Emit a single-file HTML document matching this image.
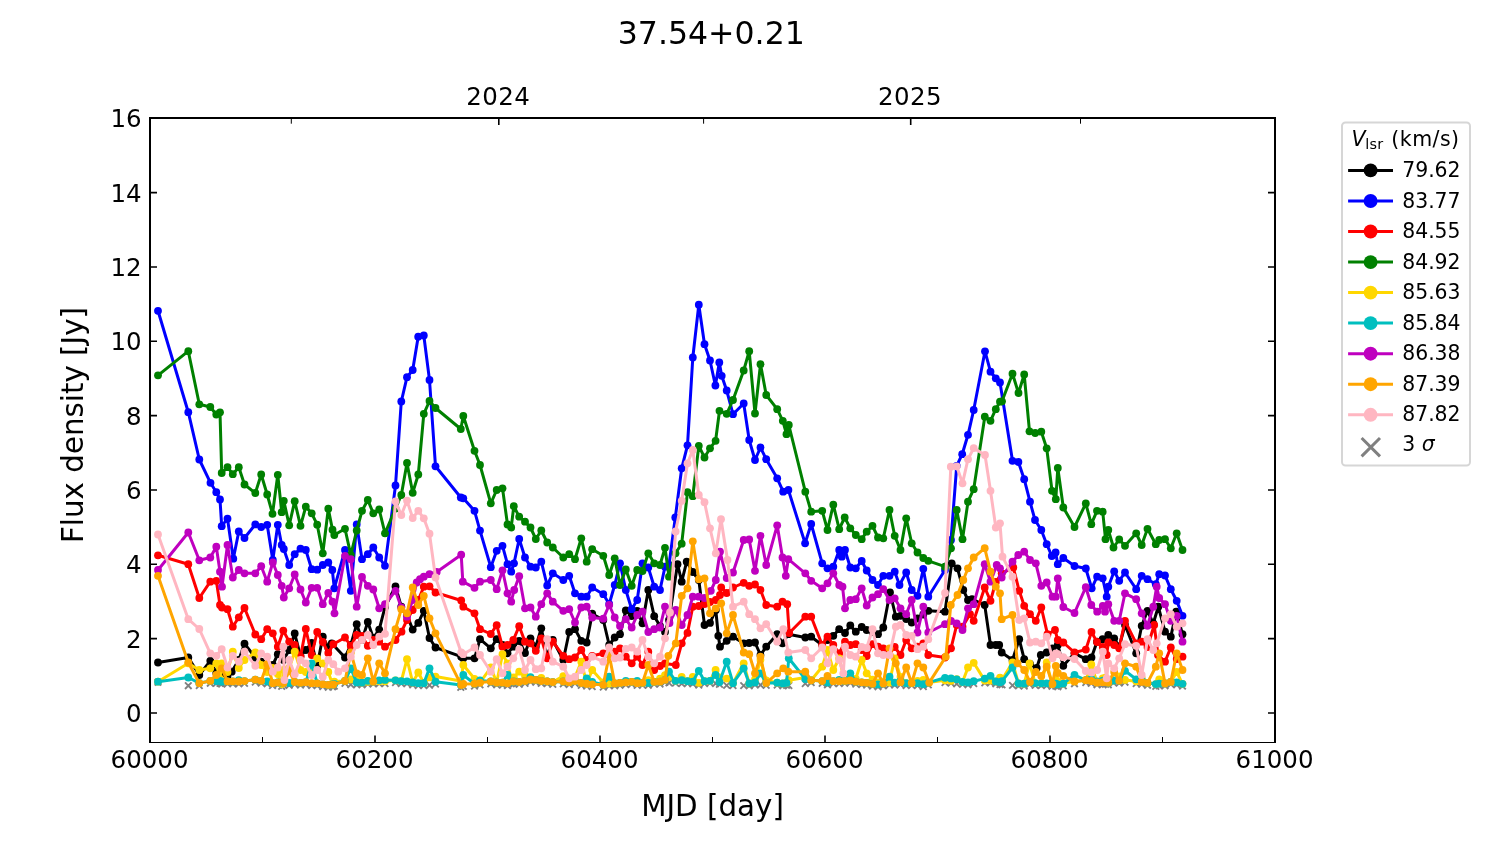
<!DOCTYPE html>
<html lang="en"><head><meta charset="utf-8"><title>37.54+0.21</title>
<style>html,body{margin:0;padding:0;background:#fff}body{width:1500px;height:844px;overflow:hidden}</style></head>
<body>
<svg width="1500" height="844" viewBox="0 0 1500 844" font-family='"DejaVu Sans","Liberation Sans",sans-serif' style="display:block">
<rect x="0" y="0" width="1500" height="844" fill="#fff"/>
<defs><clipPath id="ax"><rect x="150.0" y="118.0" width="1125.0" height="624.5"/></clipPath></defs>
<g clip-path="url(#ax)">
<path d="M154.7 678.9l6.6 6.6M154.7 685.5l6.6 -6.6M185.0 682.4l6.6 6.6M185.0 689.0l6.6 -6.6M196.0 682.2l6.6 6.6M196.0 688.8l6.6 -6.6M207.0 679.9l6.6 6.6M207.0 686.5l6.6 -6.6M213.0 680.0l6.6 6.6M213.0 686.6l6.6 -6.6M216.7 680.0l6.6 6.6M216.7 686.6l6.6 -6.6M218.4 680.7l6.6 6.6M218.4 687.3l6.6 -6.6M224.2 680.4l6.6 6.6M224.2 687.0l6.6 -6.6M229.5 680.4l6.6 6.6M229.5 687.0l6.6 -6.6M235.5 680.5l6.6 6.6M235.5 687.1l6.6 -6.6M241.2 680.1l6.6 6.6M241.2 686.7l6.6 -6.6M252.0 678.7l6.6 6.6M252.0 685.3l6.6 -6.6M257.9 679.8l6.6 6.6M257.9 686.4l6.6 -6.6M263.9 680.4l6.6 6.6M263.9 687.0l6.6 -6.6M269.2 682.2l6.6 6.6M269.2 688.8l6.6 -6.6M274.5 681.4l6.6 6.6M274.5 688.0l6.6 -6.6M278.4 683.0l6.6 6.6M278.4 689.6l6.6 -6.6M280.5 682.1l6.6 6.6M280.5 688.7l6.6 -6.6M285.9 681.9l6.6 6.6M285.9 688.5l6.6 -6.6M291.4 681.0l6.6 6.6M291.4 687.6l6.6 -6.6M297.2 681.8l6.6 6.6M297.2 688.4l6.6 -6.6M302.5 681.2l6.6 6.6M302.5 687.8l6.6 -6.6M308.4 682.2l6.6 6.6M308.4 688.8l6.6 -6.6M313.9 682.3l6.6 6.6M313.9 688.9l6.6 -6.6M319.5 683.2l6.6 6.6M319.5 689.8l6.6 -6.6M325.0 683.9l6.6 6.6M325.0 690.5l6.6 -6.6M329.2 683.5l6.6 6.6M329.2 690.1l6.6 -6.6M331.0 682.8l6.6 6.6M331.0 689.4l6.6 -6.6M341.7 680.0l6.6 6.6M341.7 686.6l6.6 -6.6M347.5 681.3l6.6 6.6M347.5 687.9l6.6 -6.6M353.4 681.4l6.6 6.6M353.4 688.0l6.6 -6.6M358.7 681.6l6.6 6.6M358.7 688.2l6.6 -6.6M364.5 680.8l6.6 6.6M364.5 687.4l6.6 -6.6M370.0 680.5l6.6 6.6M370.0 687.1l6.6 -6.6M375.9 680.3l6.6 6.6M375.9 686.9l6.6 -6.6M381.7 680.3l6.6 6.6M381.7 686.9l6.6 -6.6M392.2 679.3l6.6 6.6M392.2 685.9l6.6 -6.6M398.0 680.2l6.6 6.6M398.0 686.8l6.6 -6.6M403.7 680.3l6.6 6.6M403.7 686.9l6.6 -6.6M409.4 681.5l6.6 6.6M409.4 688.1l6.6 -6.6M415.0 682.2l6.6 6.6M415.0 688.8l6.6 -6.6M420.5 682.2l6.6 6.6M420.5 688.8l6.6 -6.6M426.2 681.9l6.6 6.6M426.2 688.5l6.6 -6.6M432.2 680.7l6.6 6.6M432.2 687.3l6.6 -6.6M457.5 684.1l6.6 6.6M457.5 690.7l6.6 -6.6M460.0 683.0l6.6 6.6M460.0 689.6l6.6 -6.6M471.2 682.7l6.6 6.6M471.2 689.3l6.6 -6.6M476.7 681.6l6.6 6.6M476.7 688.2l6.6 -6.6M487.5 680.5l6.6 6.6M487.5 687.1l6.6 -6.6M493.4 681.5l6.6 6.6M493.4 688.1l6.6 -6.6M499.2 681.7l6.6 6.6M499.2 688.3l6.6 -6.6M504.2 682.3l6.6 6.6M504.2 688.9l6.6 -6.6M507.9 680.6l6.6 6.6M507.9 687.2l6.6 -6.6M510.5 680.5l6.6 6.6M510.5 687.1l6.6 -6.6M515.9 681.0l6.6 6.6M515.9 687.6l6.6 -6.6M521.7 680.0l6.6 6.6M521.7 686.6l6.6 -6.6M527.2 678.5l6.6 6.6M527.2 685.1l6.6 -6.6M532.5 678.9l6.6 6.6M532.5 685.5l6.6 -6.6M538.0 680.0l6.6 6.6M538.0 686.6l6.6 -6.6M543.9 680.3l6.6 6.6M543.9 686.9l6.6 -6.6M549.5 681.1l6.6 6.6M549.5 687.7l6.6 -6.6M560.0 680.5l6.6 6.6M560.0 687.1l6.6 -6.6M565.9 681.2l6.6 6.6M565.9 687.8l6.6 -6.6M571.7 680.1l6.6 6.6M571.7 686.7l6.6 -6.6M578.0 682.0l6.6 6.6M578.0 688.6l6.6 -6.6M583.4 682.7l6.6 6.6M583.4 689.3l6.6 -6.6M588.9 683.3l6.6 6.6M588.9 689.9l6.6 -6.6M600.0 683.8l6.6 6.6M600.0 690.4l6.6 -6.6M605.9 682.6l6.6 6.6M605.9 689.2l6.6 -6.6M611.4 682.4l6.6 6.6M611.4 689.0l6.6 -6.6M616.7 681.9l6.6 6.6M616.7 688.5l6.6 -6.6M622.5 681.3l6.6 6.6M622.5 687.9l6.6 -6.6M628.4 680.8l6.6 6.6M628.4 687.4l6.6 -6.6M633.9 682.1l6.6 6.6M633.9 688.7l6.6 -6.6M639.2 681.8l6.6 6.6M639.2 688.4l6.6 -6.6M645.0 681.9l6.6 6.6M645.0 688.5l6.6 -6.6M650.9 680.8l6.6 6.6M650.9 687.4l6.6 -6.6M656.7 680.7l6.6 6.6M656.7 687.3l6.6 -6.6M661.7 678.9l6.6 6.6M661.7 685.5l6.6 -6.6M665.7 679.6l6.6 6.6M665.7 686.2l6.6 -6.6M672.2 679.8l6.6 6.6M672.2 686.4l6.6 -6.6M678.4 680.3l6.6 6.6M678.4 686.9l6.6 -6.6M684.2 680.2l6.6 6.6M684.2 686.8l6.6 -6.6M689.5 680.6l6.6 6.6M689.5 687.2l6.6 -6.6M695.5 681.8l6.6 6.6M695.5 688.4l6.6 -6.6M701.2 680.2l6.6 6.6M701.2 686.8l6.6 -6.6M706.7 679.8l6.6 6.6M706.7 686.4l6.6 -6.6M712.3 680.2l6.6 6.6M712.3 686.8l6.6 -6.6M716.2 681.0l6.6 6.6M716.2 687.6l6.6 -6.6M723.4 682.1l6.6 6.6M723.4 688.7l6.6 -6.6M729.7 682.2l6.6 6.6M729.7 688.8l6.6 -6.6M740.4 682.3l6.6 6.6M740.4 688.9l6.6 -6.6M745.9 682.5l6.6 6.6M745.9 689.1l6.6 -6.6M751.7 681.4l6.6 6.6M751.7 688.0l6.6 -6.6M757.2 681.7l6.6 6.6M757.2 688.3l6.6 -6.6M762.9 682.1l6.6 6.6M762.9 688.7l6.6 -6.6M773.9 681.7l6.6 6.6M773.9 688.3l6.6 -6.6M779.5 682.4l6.6 6.6M779.5 689.0l6.6 -6.6M783.2 681.9l6.6 6.6M783.2 688.5l6.6 -6.6M785.5 682.2l6.6 6.6M785.5 688.8l6.6 -6.6M802.0 680.2l6.6 6.6M802.0 686.8l6.6 -6.6M807.9 679.3l6.6 6.6M807.9 685.9l6.6 -6.6M818.9 680.1l6.6 6.6M818.9 686.7l6.6 -6.6M824.2 681.5l6.6 6.6M824.2 688.1l6.6 -6.6M830.0 680.2l6.6 6.6M830.0 686.8l6.6 -6.6M835.9 680.2l6.6 6.6M835.9 686.8l6.6 -6.6M841.4 679.9l6.6 6.6M841.4 686.5l6.6 -6.6M847.0 679.5l6.6 6.6M847.0 686.1l6.6 -6.6M852.5 680.7l6.6 6.6M852.5 687.3l6.6 -6.6M858.4 681.3l6.6 6.6M858.4 687.9l6.6 -6.6M863.4 681.8l6.6 6.6M863.4 688.4l6.6 -6.6M869.2 682.8l6.6 6.6M869.2 689.4l6.6 -6.6M874.7 683.4l6.6 6.6M874.7 690.0l6.6 -6.6M880.0 682.6l6.6 6.6M880.0 689.2l6.6 -6.6M886.2 681.5l6.6 6.6M886.2 688.1l6.6 -6.6M891.4 681.7l6.6 6.6M891.4 688.3l6.6 -6.6M897.2 681.2l6.6 6.6M897.2 687.8l6.6 -6.6M902.9 682.2l6.6 6.6M902.9 688.8l6.6 -6.6M908.4 682.0l6.6 6.6M908.4 688.6l6.6 -6.6M914.2 682.2l6.6 6.6M914.2 688.8l6.6 -6.6M920.0 683.2l6.6 6.6M920.0 689.8l6.6 -6.6M925.0 681.6l6.6 6.6M925.0 688.2l6.6 -6.6M941.7 679.3l6.6 6.6M941.7 685.9l6.6 -6.6M947.7 679.8l6.6 6.6M947.7 686.4l6.6 -6.6M953.4 680.6l6.6 6.6M953.4 687.2l6.6 -6.6M959.2 681.0l6.6 6.6M959.2 687.6l6.6 -6.6M964.7 681.4l6.6 6.6M964.7 688.0l6.6 -6.6M970.4 680.2l6.6 6.6M970.4 686.8l6.6 -6.6M981.5 679.6l6.6 6.6M981.5 686.2l6.6 -6.6M987.2 679.5l6.6 6.6M987.2 686.1l6.6 -6.6M992.5 680.4l6.6 6.6M992.5 687.0l6.6 -6.6M996.7 681.2l6.6 6.6M996.7 687.8l6.6 -6.6M998.7 681.6l6.6 6.6M998.7 688.2l6.6 -6.6M1009.2 682.1l6.6 6.6M1009.2 688.7l6.6 -6.6M1015.2 682.5l6.6 6.6M1015.2 689.1l6.6 -6.6M1020.9 682.7l6.6 6.6M1020.9 689.3l6.6 -6.6M1026.2 681.1l6.6 6.6M1026.2 687.7l6.6 -6.6M1031.9 682.1l6.6 6.6M1031.9 688.7l6.6 -6.6M1038.0 682.3l6.6 6.6M1038.0 688.9l6.6 -6.6M1043.4 682.3l6.6 6.6M1043.4 688.9l6.6 -6.6M1048.7 682.9l6.6 6.6M1048.7 689.5l6.6 -6.6M1052.5 682.7l6.6 6.6M1052.5 689.3l6.6 -6.6M1054.5 683.4l6.6 6.6M1054.5 690.0l6.6 -6.6M1060.0 682.6l6.6 6.6M1060.0 689.2l6.6 -6.6M1071.2 680.4l6.6 6.6M1071.2 687.0l6.6 -6.6M1082.5 679.2l6.6 6.6M1082.5 685.8l6.6 -6.6M1088.0 680.0l6.6 6.6M1088.0 686.6l6.6 -6.6M1093.7 681.4l6.6 6.6M1093.7 688.0l6.6 -6.6M1099.4 681.2l6.6 6.6M1099.4 687.8l6.6 -6.6M1102.2 681.1l6.6 6.6M1102.2 687.7l6.6 -6.6M1105.0 681.5l6.6 6.6M1105.0 688.1l6.6 -6.6M1110.2 679.5l6.6 6.6M1110.2 686.1l6.6 -6.6M1115.9 679.8l6.6 6.6M1115.9 686.4l6.6 -6.6M1121.7 678.9l6.6 6.6M1121.7 685.5l6.6 -6.6M1132.9 680.3l6.6 6.6M1132.9 686.9l6.6 -6.6M1138.4 680.9l6.6 6.6M1138.4 687.5l6.6 -6.6M1144.2 681.9l6.6 6.6M1144.2 688.5l6.6 -6.6M1152.5 683.1l6.6 6.6M1152.5 689.7l6.6 -6.6M1155.9 682.6l6.6 6.6M1155.9 689.2l6.6 -6.6M1161.7 682.4l6.6 6.6M1161.7 689.0l6.6 -6.6M1167.5 680.9l6.6 6.6M1167.5 687.5l6.6 -6.6M1173.4 681.4l6.6 6.6M1173.4 688.0l6.6 -6.6M1179.2 682.8l6.6 6.6M1179.2 689.4l6.6 -6.6" stroke="#808080" stroke-width="1.9" fill="none"/>
<g id="s-black" fill="#000000" stroke="none">
<polyline points="158.0,662.5 188.3,657.5 199.3,675.0 210.3,660.8 216.3,673.0 220.0,675.0 227.5,676.0 231.7,671.7 238.8,660.0 244.5,643.7 255.3,657.5 261.2,661.7 267.2,668.0 272.8,665.0 277.8,654.2 283.5,660.0 289.2,650.0 294.7,633.5 300.5,656.0 305.8,650.0 311.7,643.0 317.2,665.8 322.8,636.7 328.3,648.0 331.7,643.3 345.0,657.5 350.8,645.0 356.7,624.2 362.0,640.0 367.8,622.0 373.3,638.0 379.2,629.6 385.0,607.0 395.5,586.5 401.3,606.7 407.0,615.0 412.7,629.6 418.3,622.9 423.8,610.8 429.5,638.0 435.5,647.5 461.2,656.7 463.3,658.3 474.5,658.3 480.0,639.2 490.8,648.3 496.7,639.2 502.5,645.0 507.5,653.3 513.3,646.7 519.2,641.0 525.0,653.0 530.5,638.3 535.8,646.7 541.3,628.3 547.2,656.7 552.8,640.0 563.3,660.0 569.2,632.0 575.0,629.2 581.3,640.8 586.7,642.5 592.2,613.7 603.3,620.0 609.2,645.0 614.7,637.5 620.0,634.2 625.8,610.5 631.7,616.0 637.2,611.0 642.5,623.3 648.3,590.0 654.2,616.2 660.0,626.0 665.0,632.0 669.0,620.0 677.5,564.2 681.7,581.7 686.7,561.7 692.8,572.0 698.8,580.0 704.5,625.0 710.0,622.9 715.8,610.0 718.3,635.8 720.0,646.7 726.7,640.8 733.0,636.7 743.7,643.3 749.2,643.0 755.0,642.5 760.5,655.0 766.2,646.7 777.2,634.2 782.5,643.3 788.3,634.2 805.3,637.5 811.2,636.7 822.2,645.0 827.5,640.0 833.3,635.8 839.2,629.2 845.0,633.0 850.3,625.4 855.8,631.7 861.7,627.0 866.7,630.0 872.5,632.0 878.0,634.2 883.3,627.5 890.0,592.5 895.8,616.7 900.5,615.8 906.2,619.0 911.7,622.5 917.5,618.5 923.3,614.5 928.3,610.8 945.0,611.7 951.7,563.3 957.5,568.3 963.3,590.0 968.0,600.0 972.0,599.2 984.7,605.0 990.5,645.0 995.8,645.0 999.2,645.0 1001.7,652.5 1012.5,660.0 1019.2,639.2 1024.2,659.2 1030.0,664.0 1036.7,668.0 1040.8,655.0 1046.7,652.5 1052.5,648.3 1057.8,645.0 1063.3,665.8 1074.5,653.3 1085.8,659.2 1091.5,657.5 1097.0,641.7 1102.6,639.2 1108.3,635.0 1114.2,638.3 1119.2,646.7 1125.0,625.0 1136.2,653.3 1141.7,625.8 1147.5,610.8 1153.3,623.3 1158.3,606.7 1165.0,631.7 1170.8,636.7 1176.2,611.7 1182.5,634.2" fill="none" stroke="#000000" stroke-width="3.0" stroke-linejoin="round" stroke-linecap="butt"/>
<circle cx="158.0" cy="662.5" r="3.9"/><circle cx="188.3" cy="657.5" r="3.9"/><circle cx="199.3" cy="675.0" r="3.9"/><circle cx="210.3" cy="660.8" r="3.9"/><circle cx="216.3" cy="673.0" r="3.9"/><circle cx="220.0" cy="675.0" r="3.9"/><circle cx="227.5" cy="676.0" r="3.9"/><circle cx="231.7" cy="671.7" r="3.9"/><circle cx="238.8" cy="660.0" r="3.9"/><circle cx="244.5" cy="643.7" r="3.9"/><circle cx="255.3" cy="657.5" r="3.9"/><circle cx="261.2" cy="661.7" r="3.9"/><circle cx="267.2" cy="668.0" r="3.9"/><circle cx="272.8" cy="665.0" r="3.9"/><circle cx="277.8" cy="654.2" r="3.9"/><circle cx="283.5" cy="660.0" r="3.9"/><circle cx="289.2" cy="650.0" r="3.9"/><circle cx="294.7" cy="633.5" r="3.9"/><circle cx="300.5" cy="656.0" r="3.9"/><circle cx="305.8" cy="650.0" r="3.9"/><circle cx="311.7" cy="643.0" r="3.9"/><circle cx="317.2" cy="665.8" r="3.9"/><circle cx="322.8" cy="636.7" r="3.9"/><circle cx="328.3" cy="648.0" r="3.9"/><circle cx="331.7" cy="643.3" r="3.9"/><circle cx="345.0" cy="657.5" r="3.9"/><circle cx="350.8" cy="645.0" r="3.9"/><circle cx="356.7" cy="624.2" r="3.9"/><circle cx="362.0" cy="640.0" r="3.9"/><circle cx="367.8" cy="622.0" r="3.9"/><circle cx="373.3" cy="638.0" r="3.9"/><circle cx="379.2" cy="629.6" r="3.9"/><circle cx="385.0" cy="607.0" r="3.9"/><circle cx="395.5" cy="586.5" r="3.9"/><circle cx="401.3" cy="606.7" r="3.9"/><circle cx="407.0" cy="615.0" r="3.9"/><circle cx="412.7" cy="629.6" r="3.9"/><circle cx="418.3" cy="622.9" r="3.9"/><circle cx="423.8" cy="610.8" r="3.9"/><circle cx="429.5" cy="638.0" r="3.9"/><circle cx="435.5" cy="647.5" r="3.9"/><circle cx="461.2" cy="656.7" r="3.9"/><circle cx="463.3" cy="658.3" r="3.9"/><circle cx="474.5" cy="658.3" r="3.9"/><circle cx="480.0" cy="639.2" r="3.9"/><circle cx="490.8" cy="648.3" r="3.9"/><circle cx="496.7" cy="639.2" r="3.9"/><circle cx="502.5" cy="645.0" r="3.9"/><circle cx="507.5" cy="653.3" r="3.9"/><circle cx="513.3" cy="646.7" r="3.9"/><circle cx="519.2" cy="641.0" r="3.9"/><circle cx="525.0" cy="653.0" r="3.9"/><circle cx="530.5" cy="638.3" r="3.9"/><circle cx="535.8" cy="646.7" r="3.9"/><circle cx="541.3" cy="628.3" r="3.9"/><circle cx="547.2" cy="656.7" r="3.9"/><circle cx="552.8" cy="640.0" r="3.9"/><circle cx="563.3" cy="660.0" r="3.9"/><circle cx="569.2" cy="632.0" r="3.9"/><circle cx="575.0" cy="629.2" r="3.9"/><circle cx="581.3" cy="640.8" r="3.9"/><circle cx="586.7" cy="642.5" r="3.9"/><circle cx="592.2" cy="613.7" r="3.9"/><circle cx="603.3" cy="620.0" r="3.9"/><circle cx="609.2" cy="645.0" r="3.9"/><circle cx="614.7" cy="637.5" r="3.9"/><circle cx="620.0" cy="634.2" r="3.9"/><circle cx="625.8" cy="610.5" r="3.9"/><circle cx="631.7" cy="616.0" r="3.9"/><circle cx="637.2" cy="611.0" r="3.9"/><circle cx="642.5" cy="623.3" r="3.9"/><circle cx="648.3" cy="590.0" r="3.9"/><circle cx="654.2" cy="616.2" r="3.9"/><circle cx="660.0" cy="626.0" r="3.9"/><circle cx="665.0" cy="632.0" r="3.9"/><circle cx="669.0" cy="620.0" r="3.9"/><circle cx="677.5" cy="564.2" r="3.9"/><circle cx="681.7" cy="581.7" r="3.9"/><circle cx="686.7" cy="561.7" r="3.9"/><circle cx="692.8" cy="572.0" r="3.9"/><circle cx="698.8" cy="580.0" r="3.9"/><circle cx="704.5" cy="625.0" r="3.9"/><circle cx="710.0" cy="622.9" r="3.9"/><circle cx="715.8" cy="610.0" r="3.9"/><circle cx="718.3" cy="635.8" r="3.9"/><circle cx="720.0" cy="646.7" r="3.9"/><circle cx="726.7" cy="640.8" r="3.9"/><circle cx="733.0" cy="636.7" r="3.9"/><circle cx="743.7" cy="643.3" r="3.9"/><circle cx="749.2" cy="643.0" r="3.9"/><circle cx="755.0" cy="642.5" r="3.9"/><circle cx="760.5" cy="655.0" r="3.9"/><circle cx="766.2" cy="646.7" r="3.9"/><circle cx="777.2" cy="634.2" r="3.9"/><circle cx="782.5" cy="643.3" r="3.9"/><circle cx="788.3" cy="634.2" r="3.9"/><circle cx="805.3" cy="637.5" r="3.9"/><circle cx="811.2" cy="636.7" r="3.9"/><circle cx="822.2" cy="645.0" r="3.9"/><circle cx="827.5" cy="640.0" r="3.9"/><circle cx="833.3" cy="635.8" r="3.9"/><circle cx="839.2" cy="629.2" r="3.9"/><circle cx="845.0" cy="633.0" r="3.9"/><circle cx="850.3" cy="625.4" r="3.9"/><circle cx="855.8" cy="631.7" r="3.9"/><circle cx="861.7" cy="627.0" r="3.9"/><circle cx="866.7" cy="630.0" r="3.9"/><circle cx="872.5" cy="632.0" r="3.9"/><circle cx="878.0" cy="634.2" r="3.9"/><circle cx="883.3" cy="627.5" r="3.9"/><circle cx="890.0" cy="592.5" r="3.9"/><circle cx="895.8" cy="616.7" r="3.9"/><circle cx="900.5" cy="615.8" r="3.9"/><circle cx="906.2" cy="619.0" r="3.9"/><circle cx="911.7" cy="622.5" r="3.9"/><circle cx="917.5" cy="618.5" r="3.9"/><circle cx="923.3" cy="614.5" r="3.9"/><circle cx="928.3" cy="610.8" r="3.9"/><circle cx="945.0" cy="611.7" r="3.9"/><circle cx="951.7" cy="563.3" r="3.9"/><circle cx="957.5" cy="568.3" r="3.9"/><circle cx="963.3" cy="590.0" r="3.9"/><circle cx="968.0" cy="600.0" r="3.9"/><circle cx="972.0" cy="599.2" r="3.9"/><circle cx="984.7" cy="605.0" r="3.9"/><circle cx="990.5" cy="645.0" r="3.9"/><circle cx="995.8" cy="645.0" r="3.9"/><circle cx="999.2" cy="645.0" r="3.9"/><circle cx="1001.7" cy="652.5" r="3.9"/><circle cx="1012.5" cy="660.0" r="3.9"/><circle cx="1019.2" cy="639.2" r="3.9"/><circle cx="1024.2" cy="659.2" r="3.9"/><circle cx="1030.0" cy="664.0" r="3.9"/><circle cx="1036.7" cy="668.0" r="3.9"/><circle cx="1040.8" cy="655.0" r="3.9"/><circle cx="1046.7" cy="652.5" r="3.9"/><circle cx="1052.5" cy="648.3" r="3.9"/><circle cx="1057.8" cy="645.0" r="3.9"/><circle cx="1063.3" cy="665.8" r="3.9"/><circle cx="1074.5" cy="653.3" r="3.9"/><circle cx="1085.8" cy="659.2" r="3.9"/><circle cx="1091.5" cy="657.5" r="3.9"/><circle cx="1097.0" cy="641.7" r="3.9"/><circle cx="1102.6" cy="639.2" r="3.9"/><circle cx="1108.3" cy="635.0" r="3.9"/><circle cx="1114.2" cy="638.3" r="3.9"/><circle cx="1119.2" cy="646.7" r="3.9"/><circle cx="1125.0" cy="625.0" r="3.9"/><circle cx="1136.2" cy="653.3" r="3.9"/><circle cx="1141.7" cy="625.8" r="3.9"/><circle cx="1147.5" cy="610.8" r="3.9"/><circle cx="1153.3" cy="623.3" r="3.9"/><circle cx="1158.3" cy="606.7" r="3.9"/><circle cx="1165.0" cy="631.7" r="3.9"/><circle cx="1170.8" cy="636.7" r="3.9"/><circle cx="1176.2" cy="611.7" r="3.9"/><circle cx="1182.5" cy="634.2" r="3.9"/>
</g>
<g id="s-blue" fill="#0000ff" stroke="none">
<polyline points="158.0,310.8 188.3,412.2 199.3,459.5 210.5,482.8 216.3,492.2 220.0,499.5 221.7,526.2 227.5,518.7 233.3,558.7 238.8,531.5 244.5,538.0 255.3,524.4 261.2,527.0 267.2,524.8 272.8,560.0 277.8,524.8 281.7,545.0 283.8,549.0 289.2,565.0 294.7,554.2 300.5,548.7 305.8,550.0 311.7,569.2 317.2,569.7 322.8,565.0 328.3,562.5 332.3,570.0 334.3,588.3 345.0,550.0 350.8,590.8 356.7,524.4 362.0,559.2 367.8,554.2 373.3,547.5 379.2,557.5 385.0,565.8 395.5,485.5 401.3,401.5 407.0,377.2 412.7,370.0 418.2,336.7 423.8,335.5 429.5,380.0 435.5,466.3 460.8,497.5 463.3,498.3 474.5,510.8 480.0,530.6 490.8,567.2 496.7,550.8 502.5,545.8 507.5,564.2 511.2,571.7 514.0,563.3 519.2,539.0 525.0,557.5 530.5,566.7 535.8,567.5 541.3,561.7 547.2,585.5 552.8,573.3 563.3,580.0 569.2,575.8 575.0,593.3 581.3,596.7 586.7,596.7 592.2,587.5 603.3,594.2 609.2,604.0 614.7,585.0 620.0,563.3 625.8,590.0 631.7,609.2 637.2,600.0 642.5,563.3 648.3,567.5 654.2,586.7 660.0,590.0 665.0,566.7 669.0,565.0 675.3,517.5 681.7,468.3 687.5,445.3 692.8,357.5 698.8,304.7 704.5,344.2 710.0,360.5 715.4,385.5 719.3,362.5 721.7,375.8 726.7,390.5 733.0,414.2 743.7,403.5 749.2,440.0 755.0,460.0 760.5,447.5 766.2,459.2 777.2,478.3 783.2,491.7 788.4,490.0 805.1,543.3 811.2,524.0 822.2,563.3 827.5,568.3 833.3,566.7 839.2,550.0 841.8,556.7 845.0,550.0 850.3,567.5 855.8,568.3 861.7,561.0 866.7,570.5 872.5,580.0 878.0,585.0 883.3,575.8 889.5,575.8 894.7,571.7 899.5,585.0 906.2,572.5 911.7,590.0 917.5,595.8 923.3,568.8 928.3,596.7 945.0,570.0 951.0,540.0 956.7,465.8 962.2,454.2 968.0,434.8 973.7,410.0 985.0,351.3 990.5,371.7 995.8,378.3 1000.0,382.5 1012.5,460.8 1018.4,462.0 1024.2,479.2 1030.0,501.7 1035.0,520.0 1041.3,530.0 1046.7,544.2 1051.8,556.0 1055.6,552.5 1057.8,564.2 1063.3,558.0 1074.5,566.0 1085.8,568.5 1091.7,588.3 1097.1,576.7 1102.7,578.3 1106.7,596.7 1108.3,586.7 1114.2,571.3 1119.2,580.8 1125.0,572.5 1136.2,589.2 1141.7,575.8 1147.5,579.2 1155.8,584.2 1159.2,574.2 1165.0,575.5 1170.8,589.2 1176.7,600.8 1182.5,615.8" fill="none" stroke="#0000ff" stroke-width="3.0" stroke-linejoin="round" stroke-linecap="butt"/>
<circle cx="158.0" cy="310.8" r="3.9"/><circle cx="188.3" cy="412.2" r="3.9"/><circle cx="199.3" cy="459.5" r="3.9"/><circle cx="210.5" cy="482.8" r="3.9"/><circle cx="216.3" cy="492.2" r="3.9"/><circle cx="220.0" cy="499.5" r="3.9"/><circle cx="221.7" cy="526.2" r="3.9"/><circle cx="227.5" cy="518.7" r="3.9"/><circle cx="233.3" cy="558.7" r="3.9"/><circle cx="238.8" cy="531.5" r="3.9"/><circle cx="244.5" cy="538.0" r="3.9"/><circle cx="255.3" cy="524.4" r="3.9"/><circle cx="261.2" cy="527.0" r="3.9"/><circle cx="267.2" cy="524.8" r="3.9"/><circle cx="272.8" cy="560.0" r="3.9"/><circle cx="277.8" cy="524.8" r="3.9"/><circle cx="281.7" cy="545.0" r="3.9"/><circle cx="283.8" cy="549.0" r="3.9"/><circle cx="289.2" cy="565.0" r="3.9"/><circle cx="294.7" cy="554.2" r="3.9"/><circle cx="300.5" cy="548.7" r="3.9"/><circle cx="305.8" cy="550.0" r="3.9"/><circle cx="311.7" cy="569.2" r="3.9"/><circle cx="317.2" cy="569.7" r="3.9"/><circle cx="322.8" cy="565.0" r="3.9"/><circle cx="328.3" cy="562.5" r="3.9"/><circle cx="332.3" cy="570.0" r="3.9"/><circle cx="334.3" cy="588.3" r="3.9"/><circle cx="345.0" cy="550.0" r="3.9"/><circle cx="350.8" cy="590.8" r="3.9"/><circle cx="356.7" cy="524.4" r="3.9"/><circle cx="362.0" cy="559.2" r="3.9"/><circle cx="367.8" cy="554.2" r="3.9"/><circle cx="373.3" cy="547.5" r="3.9"/><circle cx="379.2" cy="557.5" r="3.9"/><circle cx="385.0" cy="565.8" r="3.9"/><circle cx="395.5" cy="485.5" r="3.9"/><circle cx="401.3" cy="401.5" r="3.9"/><circle cx="407.0" cy="377.2" r="3.9"/><circle cx="412.7" cy="370.0" r="3.9"/><circle cx="418.2" cy="336.7" r="3.9"/><circle cx="423.8" cy="335.5" r="3.9"/><circle cx="429.5" cy="380.0" r="3.9"/><circle cx="435.5" cy="466.3" r="3.9"/><circle cx="460.8" cy="497.5" r="3.9"/><circle cx="463.3" cy="498.3" r="3.9"/><circle cx="474.5" cy="510.8" r="3.9"/><circle cx="480.0" cy="530.6" r="3.9"/><circle cx="490.8" cy="567.2" r="3.9"/><circle cx="496.7" cy="550.8" r="3.9"/><circle cx="502.5" cy="545.8" r="3.9"/><circle cx="507.5" cy="564.2" r="3.9"/><circle cx="511.2" cy="571.7" r="3.9"/><circle cx="514.0" cy="563.3" r="3.9"/><circle cx="519.2" cy="539.0" r="3.9"/><circle cx="525.0" cy="557.5" r="3.9"/><circle cx="530.5" cy="566.7" r="3.9"/><circle cx="535.8" cy="567.5" r="3.9"/><circle cx="541.3" cy="561.7" r="3.9"/><circle cx="547.2" cy="585.5" r="3.9"/><circle cx="552.8" cy="573.3" r="3.9"/><circle cx="563.3" cy="580.0" r="3.9"/><circle cx="569.2" cy="575.8" r="3.9"/><circle cx="575.0" cy="593.3" r="3.9"/><circle cx="581.3" cy="596.7" r="3.9"/><circle cx="586.7" cy="596.7" r="3.9"/><circle cx="592.2" cy="587.5" r="3.9"/><circle cx="603.3" cy="594.2" r="3.9"/><circle cx="609.2" cy="604.0" r="3.9"/><circle cx="614.7" cy="585.0" r="3.9"/><circle cx="620.0" cy="563.3" r="3.9"/><circle cx="625.8" cy="590.0" r="3.9"/><circle cx="631.7" cy="609.2" r="3.9"/><circle cx="637.2" cy="600.0" r="3.9"/><circle cx="642.5" cy="563.3" r="3.9"/><circle cx="648.3" cy="567.5" r="3.9"/><circle cx="654.2" cy="586.7" r="3.9"/><circle cx="660.0" cy="590.0" r="3.9"/><circle cx="665.0" cy="566.7" r="3.9"/><circle cx="669.0" cy="565.0" r="3.9"/><circle cx="675.3" cy="517.5" r="3.9"/><circle cx="681.7" cy="468.3" r="3.9"/><circle cx="687.5" cy="445.3" r="3.9"/><circle cx="692.8" cy="357.5" r="3.9"/><circle cx="698.8" cy="304.7" r="3.9"/><circle cx="704.5" cy="344.2" r="3.9"/><circle cx="710.0" cy="360.5" r="3.9"/><circle cx="715.4" cy="385.5" r="3.9"/><circle cx="719.3" cy="362.5" r="3.9"/><circle cx="721.7" cy="375.8" r="3.9"/><circle cx="726.7" cy="390.5" r="3.9"/><circle cx="733.0" cy="414.2" r="3.9"/><circle cx="743.7" cy="403.5" r="3.9"/><circle cx="749.2" cy="440.0" r="3.9"/><circle cx="755.0" cy="460.0" r="3.9"/><circle cx="760.5" cy="447.5" r="3.9"/><circle cx="766.2" cy="459.2" r="3.9"/><circle cx="777.2" cy="478.3" r="3.9"/><circle cx="783.2" cy="491.7" r="3.9"/><circle cx="788.4" cy="490.0" r="3.9"/><circle cx="805.1" cy="543.3" r="3.9"/><circle cx="811.2" cy="524.0" r="3.9"/><circle cx="822.2" cy="563.3" r="3.9"/><circle cx="827.5" cy="568.3" r="3.9"/><circle cx="833.3" cy="566.7" r="3.9"/><circle cx="839.2" cy="550.0" r="3.9"/><circle cx="841.8" cy="556.7" r="3.9"/><circle cx="845.0" cy="550.0" r="3.9"/><circle cx="850.3" cy="567.5" r="3.9"/><circle cx="855.8" cy="568.3" r="3.9"/><circle cx="861.7" cy="561.0" r="3.9"/><circle cx="866.7" cy="570.5" r="3.9"/><circle cx="872.5" cy="580.0" r="3.9"/><circle cx="878.0" cy="585.0" r="3.9"/><circle cx="883.3" cy="575.8" r="3.9"/><circle cx="889.5" cy="575.8" r="3.9"/><circle cx="894.7" cy="571.7" r="3.9"/><circle cx="899.5" cy="585.0" r="3.9"/><circle cx="906.2" cy="572.5" r="3.9"/><circle cx="911.7" cy="590.0" r="3.9"/><circle cx="917.5" cy="595.8" r="3.9"/><circle cx="923.3" cy="568.8" r="3.9"/><circle cx="928.3" cy="596.7" r="3.9"/><circle cx="945.0" cy="570.0" r="3.9"/><circle cx="951.0" cy="540.0" r="3.9"/><circle cx="956.7" cy="465.8" r="3.9"/><circle cx="962.2" cy="454.2" r="3.9"/><circle cx="968.0" cy="434.8" r="3.9"/><circle cx="973.7" cy="410.0" r="3.9"/><circle cx="985.0" cy="351.3" r="3.9"/><circle cx="990.5" cy="371.7" r="3.9"/><circle cx="995.8" cy="378.3" r="3.9"/><circle cx="1000.0" cy="382.5" r="3.9"/><circle cx="1012.5" cy="460.8" r="3.9"/><circle cx="1018.4" cy="462.0" r="3.9"/><circle cx="1024.2" cy="479.2" r="3.9"/><circle cx="1030.0" cy="501.7" r="3.9"/><circle cx="1035.0" cy="520.0" r="3.9"/><circle cx="1041.3" cy="530.0" r="3.9"/><circle cx="1046.7" cy="544.2" r="3.9"/><circle cx="1051.8" cy="556.0" r="3.9"/><circle cx="1055.6" cy="552.5" r="3.9"/><circle cx="1057.8" cy="564.2" r="3.9"/><circle cx="1063.3" cy="558.0" r="3.9"/><circle cx="1074.5" cy="566.0" r="3.9"/><circle cx="1085.8" cy="568.5" r="3.9"/><circle cx="1091.7" cy="588.3" r="3.9"/><circle cx="1097.1" cy="576.7" r="3.9"/><circle cx="1102.7" cy="578.3" r="3.9"/><circle cx="1106.7" cy="596.7" r="3.9"/><circle cx="1108.3" cy="586.7" r="3.9"/><circle cx="1114.2" cy="571.3" r="3.9"/><circle cx="1119.2" cy="580.8" r="3.9"/><circle cx="1125.0" cy="572.5" r="3.9"/><circle cx="1136.2" cy="589.2" r="3.9"/><circle cx="1141.7" cy="575.8" r="3.9"/><circle cx="1147.5" cy="579.2" r="3.9"/><circle cx="1155.8" cy="584.2" r="3.9"/><circle cx="1159.2" cy="574.2" r="3.9"/><circle cx="1165.0" cy="575.5" r="3.9"/><circle cx="1170.8" cy="589.2" r="3.9"/><circle cx="1176.7" cy="600.8" r="3.9"/><circle cx="1182.5" cy="615.8" r="3.9"/>
</g>
<g id="s-red" fill="#ff0000" stroke="none">
<polyline points="158.0,555.3 188.3,564.2 199.3,598.0 210.3,581.7 216.3,580.8 220.0,605.0 222.0,607.5 227.5,609.2 232.8,626.7 238.8,617.3 244.5,608.0 255.3,634.5 261.2,639.2 267.2,629.2 272.8,633.3 277.8,646.7 283.3,630.6 289.2,641.7 294.7,645.0 300.5,656.7 305.8,629.0 311.7,655.0 317.2,632.0 322.8,642.0 328.3,653.0 333.3,644.2 345.0,637.5 350.8,646.0 356.7,635.0 362.0,636.0 367.8,645.8 373.3,640.0 379.2,641.7 385.0,646.7 395.5,640.0 401.5,631.7 407.0,620.0 412.7,610.0 418.3,600.0 423.8,586.7 429.5,586.3 435.5,592.5 461.2,600.5 463.3,606.7 474.5,613.3 480.0,629.2 490.8,634.0 496.7,625.2 502.5,646.7 507.5,645.0 513.3,640.0 519.2,626.2 525.0,641.7 530.5,643.3 535.8,650.8 541.3,638.3 547.2,658.3 552.8,641.7 563.3,655.8 569.2,659.2 575.0,657.5 581.3,650.0 586.7,660.0 592.2,656.0 603.3,653.3 609.2,653.3 614.7,651.7 620.0,648.3 625.8,656.7 631.7,663.3 637.2,656.7 642.5,665.0 648.3,651.7 654.2,670.0 660.0,666.0 665.0,663.5 675.8,665.0 681.7,643.3 687.5,632.9 692.8,606.7 698.8,606.0 704.5,604.0 710.0,602.0 715.8,600.0 720.0,595.0 721.2,587.5 726.7,593.0 733.0,587.5 743.7,582.8 749.2,585.8 755.0,584.5 760.5,590.0 766.2,605.0 777.2,606.7 782.5,601.7 787.2,604.2 789.2,633.0 805.3,616.7 811.2,616.7 822.2,645.0 827.5,636.7 833.3,645.0 839.2,653.3 845.0,641.7 850.3,645.0 855.8,644.2 861.7,650.0 866.7,656.0 872.5,644.2 878.0,646.7 883.3,648.3 889.5,650.0 894.7,647.0 900.5,655.0 906.2,640.0 911.7,648.3 917.5,646.7 923.3,643.3 928.3,655.0 945.0,657.5 951.0,648.3 956.7,625.0 962.5,626.7 970.0,614.2 973.7,620.8 984.7,587.5 990.5,600.8 995.8,582.0 1001.7,573.3 1013.3,567.5 1019.2,590.8 1024.2,605.8 1030.0,614.2 1035.8,620.8 1041.3,607.5 1047.5,634.2 1055.0,630.0 1057.8,640.0 1063.3,642.5 1074.5,652.5 1085.8,649.6 1091.5,632.0 1097.0,642.0 1102.8,647.0 1106.7,655.0 1108.3,642.5 1114.2,645.0 1119.2,648.3 1125.0,620.8 1136.2,643.3 1141.7,641.7 1147.5,647.0 1154.2,625.0 1158.0,655.0 1165.0,661.7 1170.8,647.5 1176.7,659.0 1182.5,656.7" fill="none" stroke="#ff0000" stroke-width="3.0" stroke-linejoin="round" stroke-linecap="butt"/>
<circle cx="158.0" cy="555.3" r="3.9"/><circle cx="188.3" cy="564.2" r="3.9"/><circle cx="199.3" cy="598.0" r="3.9"/><circle cx="210.3" cy="581.7" r="3.9"/><circle cx="216.3" cy="580.8" r="3.9"/><circle cx="220.0" cy="605.0" r="3.9"/><circle cx="222.0" cy="607.5" r="3.9"/><circle cx="227.5" cy="609.2" r="3.9"/><circle cx="232.8" cy="626.7" r="3.9"/><circle cx="238.8" cy="617.3" r="3.9"/><circle cx="244.5" cy="608.0" r="3.9"/><circle cx="255.3" cy="634.5" r="3.9"/><circle cx="261.2" cy="639.2" r="3.9"/><circle cx="267.2" cy="629.2" r="3.9"/><circle cx="272.8" cy="633.3" r="3.9"/><circle cx="277.8" cy="646.7" r="3.9"/><circle cx="283.3" cy="630.6" r="3.9"/><circle cx="289.2" cy="641.7" r="3.9"/><circle cx="294.7" cy="645.0" r="3.9"/><circle cx="300.5" cy="656.7" r="3.9"/><circle cx="305.8" cy="629.0" r="3.9"/><circle cx="311.7" cy="655.0" r="3.9"/><circle cx="317.2" cy="632.0" r="3.9"/><circle cx="322.8" cy="642.0" r="3.9"/><circle cx="328.3" cy="653.0" r="3.9"/><circle cx="333.3" cy="644.2" r="3.9"/><circle cx="345.0" cy="637.5" r="3.9"/><circle cx="350.8" cy="646.0" r="3.9"/><circle cx="356.7" cy="635.0" r="3.9"/><circle cx="362.0" cy="636.0" r="3.9"/><circle cx="367.8" cy="645.8" r="3.9"/><circle cx="373.3" cy="640.0" r="3.9"/><circle cx="379.2" cy="641.7" r="3.9"/><circle cx="385.0" cy="646.7" r="3.9"/><circle cx="395.5" cy="640.0" r="3.9"/><circle cx="401.5" cy="631.7" r="3.9"/><circle cx="407.0" cy="620.0" r="3.9"/><circle cx="412.7" cy="610.0" r="3.9"/><circle cx="418.3" cy="600.0" r="3.9"/><circle cx="423.8" cy="586.7" r="3.9"/><circle cx="429.5" cy="586.3" r="3.9"/><circle cx="435.5" cy="592.5" r="3.9"/><circle cx="461.2" cy="600.5" r="3.9"/><circle cx="463.3" cy="606.7" r="3.9"/><circle cx="474.5" cy="613.3" r="3.9"/><circle cx="480.0" cy="629.2" r="3.9"/><circle cx="490.8" cy="634.0" r="3.9"/><circle cx="496.7" cy="625.2" r="3.9"/><circle cx="502.5" cy="646.7" r="3.9"/><circle cx="507.5" cy="645.0" r="3.9"/><circle cx="513.3" cy="640.0" r="3.9"/><circle cx="519.2" cy="626.2" r="3.9"/><circle cx="525.0" cy="641.7" r="3.9"/><circle cx="530.5" cy="643.3" r="3.9"/><circle cx="535.8" cy="650.8" r="3.9"/><circle cx="541.3" cy="638.3" r="3.9"/><circle cx="547.2" cy="658.3" r="3.9"/><circle cx="552.8" cy="641.7" r="3.9"/><circle cx="563.3" cy="655.8" r="3.9"/><circle cx="569.2" cy="659.2" r="3.9"/><circle cx="575.0" cy="657.5" r="3.9"/><circle cx="581.3" cy="650.0" r="3.9"/><circle cx="586.7" cy="660.0" r="3.9"/><circle cx="592.2" cy="656.0" r="3.9"/><circle cx="603.3" cy="653.3" r="3.9"/><circle cx="609.2" cy="653.3" r="3.9"/><circle cx="614.7" cy="651.7" r="3.9"/><circle cx="620.0" cy="648.3" r="3.9"/><circle cx="625.8" cy="656.7" r="3.9"/><circle cx="631.7" cy="663.3" r="3.9"/><circle cx="637.2" cy="656.7" r="3.9"/><circle cx="642.5" cy="665.0" r="3.9"/><circle cx="648.3" cy="651.7" r="3.9"/><circle cx="654.2" cy="670.0" r="3.9"/><circle cx="660.0" cy="666.0" r="3.9"/><circle cx="665.0" cy="663.5" r="3.9"/><circle cx="675.8" cy="665.0" r="3.9"/><circle cx="681.7" cy="643.3" r="3.9"/><circle cx="687.5" cy="632.9" r="3.9"/><circle cx="692.8" cy="606.7" r="3.9"/><circle cx="698.8" cy="606.0" r="3.9"/><circle cx="704.5" cy="604.0" r="3.9"/><circle cx="710.0" cy="602.0" r="3.9"/><circle cx="715.8" cy="600.0" r="3.9"/><circle cx="720.0" cy="595.0" r="3.9"/><circle cx="721.2" cy="587.5" r="3.9"/><circle cx="726.7" cy="593.0" r="3.9"/><circle cx="733.0" cy="587.5" r="3.9"/><circle cx="743.7" cy="582.8" r="3.9"/><circle cx="749.2" cy="585.8" r="3.9"/><circle cx="755.0" cy="584.5" r="3.9"/><circle cx="760.5" cy="590.0" r="3.9"/><circle cx="766.2" cy="605.0" r="3.9"/><circle cx="777.2" cy="606.7" r="3.9"/><circle cx="782.5" cy="601.7" r="3.9"/><circle cx="787.2" cy="604.2" r="3.9"/><circle cx="789.2" cy="633.0" r="3.9"/><circle cx="805.3" cy="616.7" r="3.9"/><circle cx="811.2" cy="616.7" r="3.9"/><circle cx="822.2" cy="645.0" r="3.9"/><circle cx="827.5" cy="636.7" r="3.9"/><circle cx="833.3" cy="645.0" r="3.9"/><circle cx="839.2" cy="653.3" r="3.9"/><circle cx="845.0" cy="641.7" r="3.9"/><circle cx="850.3" cy="645.0" r="3.9"/><circle cx="855.8" cy="644.2" r="3.9"/><circle cx="861.7" cy="650.0" r="3.9"/><circle cx="866.7" cy="656.0" r="3.9"/><circle cx="872.5" cy="644.2" r="3.9"/><circle cx="878.0" cy="646.7" r="3.9"/><circle cx="883.3" cy="648.3" r="3.9"/><circle cx="889.5" cy="650.0" r="3.9"/><circle cx="894.7" cy="647.0" r="3.9"/><circle cx="900.5" cy="655.0" r="3.9"/><circle cx="906.2" cy="640.0" r="3.9"/><circle cx="911.7" cy="648.3" r="3.9"/><circle cx="917.5" cy="646.7" r="3.9"/><circle cx="923.3" cy="643.3" r="3.9"/><circle cx="928.3" cy="655.0" r="3.9"/><circle cx="945.0" cy="657.5" r="3.9"/><circle cx="951.0" cy="648.3" r="3.9"/><circle cx="956.7" cy="625.0" r="3.9"/><circle cx="962.5" cy="626.7" r="3.9"/><circle cx="970.0" cy="614.2" r="3.9"/><circle cx="973.7" cy="620.8" r="3.9"/><circle cx="984.7" cy="587.5" r="3.9"/><circle cx="990.5" cy="600.8" r="3.9"/><circle cx="995.8" cy="582.0" r="3.9"/><circle cx="1001.7" cy="573.3" r="3.9"/><circle cx="1013.3" cy="567.5" r="3.9"/><circle cx="1019.2" cy="590.8" r="3.9"/><circle cx="1024.2" cy="605.8" r="3.9"/><circle cx="1030.0" cy="614.2" r="3.9"/><circle cx="1035.8" cy="620.8" r="3.9"/><circle cx="1041.3" cy="607.5" r="3.9"/><circle cx="1047.5" cy="634.2" r="3.9"/><circle cx="1055.0" cy="630.0" r="3.9"/><circle cx="1057.8" cy="640.0" r="3.9"/><circle cx="1063.3" cy="642.5" r="3.9"/><circle cx="1074.5" cy="652.5" r="3.9"/><circle cx="1085.8" cy="649.6" r="3.9"/><circle cx="1091.5" cy="632.0" r="3.9"/><circle cx="1097.0" cy="642.0" r="3.9"/><circle cx="1102.8" cy="647.0" r="3.9"/><circle cx="1106.7" cy="655.0" r="3.9"/><circle cx="1108.3" cy="642.5" r="3.9"/><circle cx="1114.2" cy="645.0" r="3.9"/><circle cx="1119.2" cy="648.3" r="3.9"/><circle cx="1125.0" cy="620.8" r="3.9"/><circle cx="1136.2" cy="643.3" r="3.9"/><circle cx="1141.7" cy="641.7" r="3.9"/><circle cx="1147.5" cy="647.0" r="3.9"/><circle cx="1154.2" cy="625.0" r="3.9"/><circle cx="1158.0" cy="655.0" r="3.9"/><circle cx="1165.0" cy="661.7" r="3.9"/><circle cx="1170.8" cy="647.5" r="3.9"/><circle cx="1176.7" cy="659.0" r="3.9"/><circle cx="1182.5" cy="656.7" r="3.9"/>
</g>
<g id="s-green" fill="#008000" stroke="none">
<polyline points="158.0,375.3 188.3,351.2 199.3,404.3 210.3,407.0 216.3,414.5 220.0,412.3 221.7,473.0 227.5,467.2 232.8,474.2 238.8,467.2 244.5,484.5 255.3,493.0 261.2,474.5 267.2,494.5 272.5,513.8 277.8,474.8 281.7,512.2 283.8,500.8 289.2,525.3 294.7,501.2 300.5,525.8 305.8,506.7 311.7,513.3 317.2,524.7 322.8,553.3 328.3,508.7 332.5,529.7 334.3,535.0 345.0,528.8 350.8,555.0 356.7,530.5 362.0,510.8 367.8,500.0 373.3,513.3 379.2,509.5 385.0,533.3 395.5,508.6 401.3,495.0 407.0,463.0 412.7,492.8 418.3,474.5 423.8,413.8 429.5,401.0 435.5,408.0 460.8,429.0 463.3,416.0 474.5,450.8 480.0,465.0 490.8,503.3 496.7,490.0 502.5,488.3 507.5,524.5 511.2,527.5 513.8,506.2 519.2,516.7 525.0,521.7 530.5,527.5 535.8,539.0 541.3,530.5 547.2,542.5 552.8,547.5 563.3,557.5 569.2,554.2 575.0,559.2 581.3,538.3 586.7,561.7 592.2,549.2 603.3,555.8 609.2,575.0 614.7,558.3 620.0,585.0 625.8,569.5 631.7,585.8 637.2,570.0 642.5,571.0 648.3,553.3 654.2,563.3 660.0,565.0 665.0,547.8 669.0,576.7 675.5,553.3 681.7,543.7 687.5,492.2 692.8,496.2 698.8,445.8 704.5,457.5 710.0,448.3 715.6,440.8 719.5,410.8 726.7,413.8 733.0,400.0 743.7,370.5 749.2,351.2 755.0,413.5 760.5,364.2 766.2,395.0 777.2,409.2 782.8,420.8 786.5,434.2 788.8,425.0 805.3,491.7 811.2,511.7 822.2,510.8 827.5,530.0 833.3,504.7 839.2,529.2 844.7,517.5 850.3,528.3 855.8,535.0 861.7,539.2 866.7,531.7 872.5,525.8 878.0,537.5 883.3,538.3 889.5,510.0 894.7,535.8 900.5,550.0 906.2,518.3 911.7,543.3 917.5,552.5 923.3,558.0 928.3,560.8 945.0,566.7 951.0,548.3 956.7,510.0 962.5,539.2 968.0,501.7 973.7,489.2 984.8,416.7 990.5,420.8 995.8,409.2 1000.0,401.7 1002.0,401.3 1012.5,373.7 1018.5,393.0 1024.2,374.5 1029.5,431.3 1035.2,433.0 1041.3,431.7 1046.7,448.3 1052.0,490.8 1055.8,499.2 1057.8,468.0 1063.3,507.5 1074.5,527.0 1085.8,503.5 1091.3,524.2 1097.0,510.8 1102.7,511.7 1105.5,539.2 1108.3,530.0 1113.5,547.5 1119.2,539.5 1125.0,545.8 1136.2,533.3 1141.7,545.0 1147.5,528.8 1155.8,544.2 1159.2,540.0 1165.0,539.2 1170.8,548.3 1176.7,533.3 1182.5,550.0" fill="none" stroke="#008000" stroke-width="3.0" stroke-linejoin="round" stroke-linecap="butt"/>
<circle cx="158.0" cy="375.3" r="3.9"/><circle cx="188.3" cy="351.2" r="3.9"/><circle cx="199.3" cy="404.3" r="3.9"/><circle cx="210.3" cy="407.0" r="3.9"/><circle cx="216.3" cy="414.5" r="3.9"/><circle cx="220.0" cy="412.3" r="3.9"/><circle cx="221.7" cy="473.0" r="3.9"/><circle cx="227.5" cy="467.2" r="3.9"/><circle cx="232.8" cy="474.2" r="3.9"/><circle cx="238.8" cy="467.2" r="3.9"/><circle cx="244.5" cy="484.5" r="3.9"/><circle cx="255.3" cy="493.0" r="3.9"/><circle cx="261.2" cy="474.5" r="3.9"/><circle cx="267.2" cy="494.5" r="3.9"/><circle cx="272.5" cy="513.8" r="3.9"/><circle cx="277.8" cy="474.8" r="3.9"/><circle cx="281.7" cy="512.2" r="3.9"/><circle cx="283.8" cy="500.8" r="3.9"/><circle cx="289.2" cy="525.3" r="3.9"/><circle cx="294.7" cy="501.2" r="3.9"/><circle cx="300.5" cy="525.8" r="3.9"/><circle cx="305.8" cy="506.7" r="3.9"/><circle cx="311.7" cy="513.3" r="3.9"/><circle cx="317.2" cy="524.7" r="3.9"/><circle cx="322.8" cy="553.3" r="3.9"/><circle cx="328.3" cy="508.7" r="3.9"/><circle cx="332.5" cy="529.7" r="3.9"/><circle cx="334.3" cy="535.0" r="3.9"/><circle cx="345.0" cy="528.8" r="3.9"/><circle cx="350.8" cy="555.0" r="3.9"/><circle cx="356.7" cy="530.5" r="3.9"/><circle cx="362.0" cy="510.8" r="3.9"/><circle cx="367.8" cy="500.0" r="3.9"/><circle cx="373.3" cy="513.3" r="3.9"/><circle cx="379.2" cy="509.5" r="3.9"/><circle cx="385.0" cy="533.3" r="3.9"/><circle cx="395.5" cy="508.6" r="3.9"/><circle cx="401.3" cy="495.0" r="3.9"/><circle cx="407.0" cy="463.0" r="3.9"/><circle cx="412.7" cy="492.8" r="3.9"/><circle cx="418.3" cy="474.5" r="3.9"/><circle cx="423.8" cy="413.8" r="3.9"/><circle cx="429.5" cy="401.0" r="3.9"/><circle cx="435.5" cy="408.0" r="3.9"/><circle cx="460.8" cy="429.0" r="3.9"/><circle cx="463.3" cy="416.0" r="3.9"/><circle cx="474.5" cy="450.8" r="3.9"/><circle cx="480.0" cy="465.0" r="3.9"/><circle cx="490.8" cy="503.3" r="3.9"/><circle cx="496.7" cy="490.0" r="3.9"/><circle cx="502.5" cy="488.3" r="3.9"/><circle cx="507.5" cy="524.5" r="3.9"/><circle cx="511.2" cy="527.5" r="3.9"/><circle cx="513.8" cy="506.2" r="3.9"/><circle cx="519.2" cy="516.7" r="3.9"/><circle cx="525.0" cy="521.7" r="3.9"/><circle cx="530.5" cy="527.5" r="3.9"/><circle cx="535.8" cy="539.0" r="3.9"/><circle cx="541.3" cy="530.5" r="3.9"/><circle cx="547.2" cy="542.5" r="3.9"/><circle cx="552.8" cy="547.5" r="3.9"/><circle cx="563.3" cy="557.5" r="3.9"/><circle cx="569.2" cy="554.2" r="3.9"/><circle cx="575.0" cy="559.2" r="3.9"/><circle cx="581.3" cy="538.3" r="3.9"/><circle cx="586.7" cy="561.7" r="3.9"/><circle cx="592.2" cy="549.2" r="3.9"/><circle cx="603.3" cy="555.8" r="3.9"/><circle cx="609.2" cy="575.0" r="3.9"/><circle cx="614.7" cy="558.3" r="3.9"/><circle cx="620.0" cy="585.0" r="3.9"/><circle cx="625.8" cy="569.5" r="3.9"/><circle cx="631.7" cy="585.8" r="3.9"/><circle cx="637.2" cy="570.0" r="3.9"/><circle cx="642.5" cy="571.0" r="3.9"/><circle cx="648.3" cy="553.3" r="3.9"/><circle cx="654.2" cy="563.3" r="3.9"/><circle cx="660.0" cy="565.0" r="3.9"/><circle cx="665.0" cy="547.8" r="3.9"/><circle cx="669.0" cy="576.7" r="3.9"/><circle cx="675.5" cy="553.3" r="3.9"/><circle cx="681.7" cy="543.7" r="3.9"/><circle cx="687.5" cy="492.2" r="3.9"/><circle cx="692.8" cy="496.2" r="3.9"/><circle cx="698.8" cy="445.8" r="3.9"/><circle cx="704.5" cy="457.5" r="3.9"/><circle cx="710.0" cy="448.3" r="3.9"/><circle cx="715.6" cy="440.8" r="3.9"/><circle cx="719.5" cy="410.8" r="3.9"/><circle cx="726.7" cy="413.8" r="3.9"/><circle cx="733.0" cy="400.0" r="3.9"/><circle cx="743.7" cy="370.5" r="3.9"/><circle cx="749.2" cy="351.2" r="3.9"/><circle cx="755.0" cy="413.5" r="3.9"/><circle cx="760.5" cy="364.2" r="3.9"/><circle cx="766.2" cy="395.0" r="3.9"/><circle cx="777.2" cy="409.2" r="3.9"/><circle cx="782.8" cy="420.8" r="3.9"/><circle cx="786.5" cy="434.2" r="3.9"/><circle cx="788.8" cy="425.0" r="3.9"/><circle cx="805.3" cy="491.7" r="3.9"/><circle cx="811.2" cy="511.7" r="3.9"/><circle cx="822.2" cy="510.8" r="3.9"/><circle cx="827.5" cy="530.0" r="3.9"/><circle cx="833.3" cy="504.7" r="3.9"/><circle cx="839.2" cy="529.2" r="3.9"/><circle cx="844.7" cy="517.5" r="3.9"/><circle cx="850.3" cy="528.3" r="3.9"/><circle cx="855.8" cy="535.0" r="3.9"/><circle cx="861.7" cy="539.2" r="3.9"/><circle cx="866.7" cy="531.7" r="3.9"/><circle cx="872.5" cy="525.8" r="3.9"/><circle cx="878.0" cy="537.5" r="3.9"/><circle cx="883.3" cy="538.3" r="3.9"/><circle cx="889.5" cy="510.0" r="3.9"/><circle cx="894.7" cy="535.8" r="3.9"/><circle cx="900.5" cy="550.0" r="3.9"/><circle cx="906.2" cy="518.3" r="3.9"/><circle cx="911.7" cy="543.3" r="3.9"/><circle cx="917.5" cy="552.5" r="3.9"/><circle cx="923.3" cy="558.0" r="3.9"/><circle cx="928.3" cy="560.8" r="3.9"/><circle cx="945.0" cy="566.7" r="3.9"/><circle cx="951.0" cy="548.3" r="3.9"/><circle cx="956.7" cy="510.0" r="3.9"/><circle cx="962.5" cy="539.2" r="3.9"/><circle cx="968.0" cy="501.7" r="3.9"/><circle cx="973.7" cy="489.2" r="3.9"/><circle cx="984.8" cy="416.7" r="3.9"/><circle cx="990.5" cy="420.8" r="3.9"/><circle cx="995.8" cy="409.2" r="3.9"/><circle cx="1000.0" cy="401.7" r="3.9"/><circle cx="1002.0" cy="401.3" r="3.9"/><circle cx="1012.5" cy="373.7" r="3.9"/><circle cx="1018.5" cy="393.0" r="3.9"/><circle cx="1024.2" cy="374.5" r="3.9"/><circle cx="1029.5" cy="431.3" r="3.9"/><circle cx="1035.2" cy="433.0" r="3.9"/><circle cx="1041.3" cy="431.7" r="3.9"/><circle cx="1046.7" cy="448.3" r="3.9"/><circle cx="1052.0" cy="490.8" r="3.9"/><circle cx="1055.8" cy="499.2" r="3.9"/><circle cx="1057.8" cy="468.0" r="3.9"/><circle cx="1063.3" cy="507.5" r="3.9"/><circle cx="1074.5" cy="527.0" r="3.9"/><circle cx="1085.8" cy="503.5" r="3.9"/><circle cx="1091.3" cy="524.2" r="3.9"/><circle cx="1097.0" cy="510.8" r="3.9"/><circle cx="1102.7" cy="511.7" r="3.9"/><circle cx="1105.5" cy="539.2" r="3.9"/><circle cx="1108.3" cy="530.0" r="3.9"/><circle cx="1113.5" cy="547.5" r="3.9"/><circle cx="1119.2" cy="539.5" r="3.9"/><circle cx="1125.0" cy="545.8" r="3.9"/><circle cx="1136.2" cy="533.3" r="3.9"/><circle cx="1141.7" cy="545.0" r="3.9"/><circle cx="1147.5" cy="528.8" r="3.9"/><circle cx="1155.8" cy="544.2" r="3.9"/><circle cx="1159.2" cy="540.0" r="3.9"/><circle cx="1165.0" cy="539.2" r="3.9"/><circle cx="1170.8" cy="548.3" r="3.9"/><circle cx="1176.7" cy="533.3" r="3.9"/><circle cx="1182.5" cy="550.0" r="3.9"/>
</g>
<g id="s-yellow" fill="#ffd700" stroke="none">
<polyline points="158.0,681.7 188.3,663.3 199.3,670.0 210.3,668.3 216.3,663.3 220.0,678.6 221.7,663.3 227.5,672.0 232.8,651.7 238.8,668.0 244.5,660.0 255.3,652.5 261.2,665.0 267.2,672.0 272.5,668.0 277.8,674.0 281.7,684.0 283.8,670.0 289.2,668.0 294.7,651.7 300.5,670.0 305.8,672.0 311.7,668.0 317.2,658.3 322.8,663.3 328.3,672.0 332.5,684.5 334.3,681.6 345.0,681.0 350.8,679.4 356.7,678.3 362.0,682.6 367.8,681.8 373.3,681.5 379.2,681.3 385.0,681.3 395.5,680.3 401.3,681.2 407.0,659.2 412.7,682.5 418.3,672.5 423.8,683.2 429.5,677.4 435.5,676.6 460.8,681.0 463.3,665.0 474.5,678.8 480.0,682.6 490.8,667.5 496.7,682.5 502.5,654.2 507.5,663.3 511.2,679.2 513.8,677.3 519.2,671.7 525.0,675.8 530.5,679.5 535.8,679.9 541.3,677.8 547.2,681.3 552.8,682.1 563.3,676.1 569.2,682.2 575.0,677.1 581.3,661.7 586.7,683.7 592.2,670.0 603.3,682.5 609.2,683.6 614.7,683.4 620.0,682.9 625.8,682.3 631.7,681.8 637.2,683.1 642.5,682.8 648.3,680.2 654.2,681.8 660.0,678.6 665.0,675.2 669.0,677.1 675.5,680.8 681.7,677.0 687.5,681.2 692.8,676.8 698.8,682.8 704.5,681.2 710.0,680.8 715.6,670.0 719.5,677.5 726.7,678.6 733.0,683.2 743.7,663.3 749.2,683.5 755.0,679.4 760.5,660.0 766.2,680.3 777.2,682.7 782.8,683.4 786.5,682.9 788.8,680.2 805.3,677.4 811.2,680.3 822.2,666.7 827.5,650.0 833.3,670.0 839.2,658.3 844.7,680.9 850.3,676.6 855.8,678.9 861.7,660.0 866.7,673.3 872.5,679.6 878.0,682.4 883.3,682.1 889.5,682.5 894.7,658.3 900.5,676.9 906.2,683.2 911.7,683.0 917.5,680.8 923.3,680.0 928.3,682.6 945.0,680.3 951.0,680.8 956.7,679.2 962.5,682.0 968.0,667.5 973.7,662.8 984.8,680.6 990.5,680.5 995.8,681.4 1000.0,677.7 1002.0,679.7 1012.5,662.5 1018.5,683.5 1024.2,683.7 1029.5,663.3 1035.2,683.1 1041.3,683.3 1046.7,662.5 1052.0,683.9 1055.8,680.0 1057.8,681.9 1063.3,683.6 1074.5,681.4 1085.8,680.2 1091.3,664.5 1097.0,682.4 1102.7,678.4 1105.5,677.7 1108.3,682.5 1113.5,680.5 1119.2,676.3 1125.0,679.9 1136.2,681.3 1141.7,678.2 1147.5,682.9 1155.8,684.1 1159.2,679.3 1165.0,683.4 1170.8,681.9 1176.7,672.0 1182.5,683.8" fill="none" stroke="#ffd700" stroke-width="3.0" stroke-linejoin="round" stroke-linecap="butt"/>
<circle cx="158.0" cy="681.7" r="3.9"/><circle cx="188.3" cy="663.3" r="3.9"/><circle cx="199.3" cy="670.0" r="3.9"/><circle cx="210.3" cy="668.3" r="3.9"/><circle cx="216.3" cy="663.3" r="3.9"/><circle cx="220.0" cy="678.6" r="3.9"/><circle cx="221.7" cy="663.3" r="3.9"/><circle cx="227.5" cy="672.0" r="3.9"/><circle cx="232.8" cy="651.7" r="3.9"/><circle cx="238.8" cy="668.0" r="3.9"/><circle cx="244.5" cy="660.0" r="3.9"/><circle cx="255.3" cy="652.5" r="3.9"/><circle cx="261.2" cy="665.0" r="3.9"/><circle cx="267.2" cy="672.0" r="3.9"/><circle cx="272.5" cy="668.0" r="3.9"/><circle cx="277.8" cy="674.0" r="3.9"/><circle cx="281.7" cy="684.0" r="3.9"/><circle cx="283.8" cy="670.0" r="3.9"/><circle cx="289.2" cy="668.0" r="3.9"/><circle cx="294.7" cy="651.7" r="3.9"/><circle cx="300.5" cy="670.0" r="3.9"/><circle cx="305.8" cy="672.0" r="3.9"/><circle cx="311.7" cy="668.0" r="3.9"/><circle cx="317.2" cy="658.3" r="3.9"/><circle cx="322.8" cy="663.3" r="3.9"/><circle cx="328.3" cy="672.0" r="3.9"/><circle cx="332.5" cy="684.5" r="3.9"/><circle cx="334.3" cy="681.6" r="3.9"/><circle cx="345.0" cy="681.0" r="3.9"/><circle cx="350.8" cy="679.4" r="3.9"/><circle cx="356.7" cy="678.3" r="3.9"/><circle cx="362.0" cy="682.6" r="3.9"/><circle cx="367.8" cy="681.8" r="3.9"/><circle cx="373.3" cy="681.5" r="3.9"/><circle cx="379.2" cy="681.3" r="3.9"/><circle cx="385.0" cy="681.3" r="3.9"/><circle cx="395.5" cy="680.3" r="3.9"/><circle cx="401.3" cy="681.2" r="3.9"/><circle cx="407.0" cy="659.2" r="3.9"/><circle cx="412.7" cy="682.5" r="3.9"/><circle cx="418.3" cy="672.5" r="3.9"/><circle cx="423.8" cy="683.2" r="3.9"/><circle cx="429.5" cy="677.4" r="3.9"/><circle cx="435.5" cy="676.6" r="3.9"/><circle cx="460.8" cy="681.0" r="3.9"/><circle cx="463.3" cy="665.0" r="3.9"/><circle cx="474.5" cy="678.8" r="3.9"/><circle cx="480.0" cy="682.6" r="3.9"/><circle cx="490.8" cy="667.5" r="3.9"/><circle cx="496.7" cy="682.5" r="3.9"/><circle cx="502.5" cy="654.2" r="3.9"/><circle cx="507.5" cy="663.3" r="3.9"/><circle cx="511.2" cy="679.2" r="3.9"/><circle cx="513.8" cy="677.3" r="3.9"/><circle cx="519.2" cy="671.7" r="3.9"/><circle cx="525.0" cy="675.8" r="3.9"/><circle cx="530.5" cy="679.5" r="3.9"/><circle cx="535.8" cy="679.9" r="3.9"/><circle cx="541.3" cy="677.8" r="3.9"/><circle cx="547.2" cy="681.3" r="3.9"/><circle cx="552.8" cy="682.1" r="3.9"/><circle cx="563.3" cy="676.1" r="3.9"/><circle cx="569.2" cy="682.2" r="3.9"/><circle cx="575.0" cy="677.1" r="3.9"/><circle cx="581.3" cy="661.7" r="3.9"/><circle cx="586.7" cy="683.7" r="3.9"/><circle cx="592.2" cy="670.0" r="3.9"/><circle cx="603.3" cy="682.5" r="3.9"/><circle cx="609.2" cy="683.6" r="3.9"/><circle cx="614.7" cy="683.4" r="3.9"/><circle cx="620.0" cy="682.9" r="3.9"/><circle cx="625.8" cy="682.3" r="3.9"/><circle cx="631.7" cy="681.8" r="3.9"/><circle cx="637.2" cy="683.1" r="3.9"/><circle cx="642.5" cy="682.8" r="3.9"/><circle cx="648.3" cy="680.2" r="3.9"/><circle cx="654.2" cy="681.8" r="3.9"/><circle cx="660.0" cy="678.6" r="3.9"/><circle cx="665.0" cy="675.2" r="3.9"/><circle cx="669.0" cy="677.1" r="3.9"/><circle cx="675.5" cy="680.8" r="3.9"/><circle cx="681.7" cy="677.0" r="3.9"/><circle cx="687.5" cy="681.2" r="3.9"/><circle cx="692.8" cy="676.8" r="3.9"/><circle cx="698.8" cy="682.8" r="3.9"/><circle cx="704.5" cy="681.2" r="3.9"/><circle cx="710.0" cy="680.8" r="3.9"/><circle cx="715.6" cy="670.0" r="3.9"/><circle cx="719.5" cy="677.5" r="3.9"/><circle cx="726.7" cy="678.6" r="3.9"/><circle cx="733.0" cy="683.2" r="3.9"/><circle cx="743.7" cy="663.3" r="3.9"/><circle cx="749.2" cy="683.5" r="3.9"/><circle cx="755.0" cy="679.4" r="3.9"/><circle cx="760.5" cy="660.0" r="3.9"/><circle cx="766.2" cy="680.3" r="3.9"/><circle cx="777.2" cy="682.7" r="3.9"/><circle cx="782.8" cy="683.4" r="3.9"/><circle cx="786.5" cy="682.9" r="3.9"/><circle cx="788.8" cy="680.2" r="3.9"/><circle cx="805.3" cy="677.4" r="3.9"/><circle cx="811.2" cy="680.3" r="3.9"/><circle cx="822.2" cy="666.7" r="3.9"/><circle cx="827.5" cy="650.0" r="3.9"/><circle cx="833.3" cy="670.0" r="3.9"/><circle cx="839.2" cy="658.3" r="3.9"/><circle cx="844.7" cy="680.9" r="3.9"/><circle cx="850.3" cy="676.6" r="3.9"/><circle cx="855.8" cy="678.9" r="3.9"/><circle cx="861.7" cy="660.0" r="3.9"/><circle cx="866.7" cy="673.3" r="3.9"/><circle cx="872.5" cy="679.6" r="3.9"/><circle cx="878.0" cy="682.4" r="3.9"/><circle cx="883.3" cy="682.1" r="3.9"/><circle cx="889.5" cy="682.5" r="3.9"/><circle cx="894.7" cy="658.3" r="3.9"/><circle cx="900.5" cy="676.9" r="3.9"/><circle cx="906.2" cy="683.2" r="3.9"/><circle cx="911.7" cy="683.0" r="3.9"/><circle cx="917.5" cy="680.8" r="3.9"/><circle cx="923.3" cy="680.0" r="3.9"/><circle cx="928.3" cy="682.6" r="3.9"/><circle cx="945.0" cy="680.3" r="3.9"/><circle cx="951.0" cy="680.8" r="3.9"/><circle cx="956.7" cy="679.2" r="3.9"/><circle cx="962.5" cy="682.0" r="3.9"/><circle cx="968.0" cy="667.5" r="3.9"/><circle cx="973.7" cy="662.8" r="3.9"/><circle cx="984.8" cy="680.6" r="3.9"/><circle cx="990.5" cy="680.5" r="3.9"/><circle cx="995.8" cy="681.4" r="3.9"/><circle cx="1000.0" cy="677.7" r="3.9"/><circle cx="1002.0" cy="679.7" r="3.9"/><circle cx="1012.5" cy="662.5" r="3.9"/><circle cx="1018.5" cy="683.5" r="3.9"/><circle cx="1024.2" cy="683.7" r="3.9"/><circle cx="1029.5" cy="663.3" r="3.9"/><circle cx="1035.2" cy="683.1" r="3.9"/><circle cx="1041.3" cy="683.3" r="3.9"/><circle cx="1046.7" cy="662.5" r="3.9"/><circle cx="1052.0" cy="683.9" r="3.9"/><circle cx="1055.8" cy="680.0" r="3.9"/><circle cx="1057.8" cy="681.9" r="3.9"/><circle cx="1063.3" cy="683.6" r="3.9"/><circle cx="1074.5" cy="681.4" r="3.9"/><circle cx="1085.8" cy="680.2" r="3.9"/><circle cx="1091.3" cy="664.5" r="3.9"/><circle cx="1097.0" cy="682.4" r="3.9"/><circle cx="1102.7" cy="678.4" r="3.9"/><circle cx="1105.5" cy="677.7" r="3.9"/><circle cx="1108.3" cy="682.5" r="3.9"/><circle cx="1113.5" cy="680.5" r="3.9"/><circle cx="1119.2" cy="676.3" r="3.9"/><circle cx="1125.0" cy="679.9" r="3.9"/><circle cx="1136.2" cy="681.3" r="3.9"/><circle cx="1141.7" cy="678.2" r="3.9"/><circle cx="1147.5" cy="682.9" r="3.9"/><circle cx="1155.8" cy="684.1" r="3.9"/><circle cx="1159.2" cy="679.3" r="3.9"/><circle cx="1165.0" cy="683.4" r="3.9"/><circle cx="1170.8" cy="681.9" r="3.9"/><circle cx="1176.7" cy="672.0" r="3.9"/><circle cx="1182.5" cy="683.8" r="3.9"/>
</g>
<g id="s-cyan" fill="#00bfbf" stroke="none">
<polyline points="158.0,681.7 188.3,677.5 199.3,683.2 210.3,680.9 216.3,681.0 220.0,681.0 221.7,681.7 227.5,681.4 232.8,681.4 238.8,680.1 244.5,681.1 255.3,679.7 261.2,680.8 267.2,681.4 272.5,683.2 277.8,682.4 281.7,682.7 283.8,682.1 289.2,682.9 294.7,682.0 300.5,682.8 305.8,682.2 311.7,663.3 317.2,683.3 322.8,684.2 328.3,684.9 332.5,684.5 334.3,683.8 345.0,681.0 350.8,668.3 356.7,682.4 362.0,682.6 367.8,680.8 373.3,681.5 379.2,680.3 385.0,679.9 395.5,680.3 401.3,681.2 407.0,681.3 412.7,682.5 418.3,683.2 423.8,683.2 429.5,668.3 435.5,681.7 460.8,685.1 463.3,675.0 474.5,683.7 480.0,680.4 490.8,681.5 496.7,682.5 502.5,682.7 507.5,675.0 511.2,681.6 513.8,681.5 519.2,682.0 525.0,681.0 530.5,677.1 535.8,679.9 541.3,681.0 547.2,681.3 552.8,682.1 563.3,681.5 569.2,682.2 575.0,681.1 581.3,683.0 586.7,678.3 592.2,681.9 603.3,684.8 609.2,676.7 614.7,683.4 620.0,682.9 625.8,681.0 631.7,681.8 637.2,680.9 642.5,682.8 648.3,682.9 654.2,681.8 660.0,681.7 665.0,679.9 669.0,671.7 675.5,680.8 681.7,680.2 687.5,681.2 692.8,681.6 698.8,670.8 704.5,681.2 710.0,680.8 715.6,675.0 719.5,682.0 726.7,661.7 733.0,683.2 743.7,668.3 749.2,683.5 755.0,682.4 760.5,673.3 766.2,683.1 777.2,682.7 782.8,683.4 786.5,682.9 788.8,658.3 805.3,679.0 811.2,680.3 822.2,681.1 827.5,682.5 833.3,681.2 839.2,680.0 844.7,680.9 850.3,673.3 855.8,681.7 861.7,682.3 866.7,682.8 872.5,683.8 878.0,684.4 883.3,683.6 889.5,676.7 894.7,682.7 900.5,680.8 906.2,683.2 911.7,683.0 917.5,683.2 923.3,684.2 928.3,682.6 945.0,677.8 951.0,678.4 956.7,679.3 962.5,682.0 968.0,682.4 973.7,681.2 984.8,678.6 990.5,675.8 995.8,681.4 1000.0,682.2 1002.0,681.2 1012.5,667.5 1018.5,683.5 1024.2,683.7 1029.5,682.1 1035.2,683.1 1041.3,683.3 1046.7,683.3 1052.0,682.9 1055.8,683.7 1057.8,684.4 1063.3,683.6 1074.5,675.0 1085.8,680.2 1091.3,679.0 1097.0,681.3 1102.7,680.7 1105.5,682.1 1108.3,682.5 1113.5,680.5 1119.2,680.8 1125.0,670.8 1136.2,679.3 1141.7,680.0 1147.5,682.9 1155.8,684.1 1159.2,683.6 1165.0,683.4 1170.8,681.9 1176.7,682.4 1182.5,683.8" fill="none" stroke="#00bfbf" stroke-width="3.0" stroke-linejoin="round" stroke-linecap="butt"/>
<circle cx="158.0" cy="681.7" r="3.9"/><circle cx="188.3" cy="677.5" r="3.9"/><circle cx="199.3" cy="683.2" r="3.9"/><circle cx="210.3" cy="680.9" r="3.9"/><circle cx="216.3" cy="681.0" r="3.9"/><circle cx="220.0" cy="681.0" r="3.9"/><circle cx="221.7" cy="681.7" r="3.9"/><circle cx="227.5" cy="681.4" r="3.9"/><circle cx="232.8" cy="681.4" r="3.9"/><circle cx="238.8" cy="680.1" r="3.9"/><circle cx="244.5" cy="681.1" r="3.9"/><circle cx="255.3" cy="679.7" r="3.9"/><circle cx="261.2" cy="680.8" r="3.9"/><circle cx="267.2" cy="681.4" r="3.9"/><circle cx="272.5" cy="683.2" r="3.9"/><circle cx="277.8" cy="682.4" r="3.9"/><circle cx="281.7" cy="682.7" r="3.9"/><circle cx="283.8" cy="682.1" r="3.9"/><circle cx="289.2" cy="682.9" r="3.9"/><circle cx="294.7" cy="682.0" r="3.9"/><circle cx="300.5" cy="682.8" r="3.9"/><circle cx="305.8" cy="682.2" r="3.9"/><circle cx="311.7" cy="663.3" r="3.9"/><circle cx="317.2" cy="683.3" r="3.9"/><circle cx="322.8" cy="684.2" r="3.9"/><circle cx="328.3" cy="684.9" r="3.9"/><circle cx="332.5" cy="684.5" r="3.9"/><circle cx="334.3" cy="683.8" r="3.9"/><circle cx="345.0" cy="681.0" r="3.9"/><circle cx="350.8" cy="668.3" r="3.9"/><circle cx="356.7" cy="682.4" r="3.9"/><circle cx="362.0" cy="682.6" r="3.9"/><circle cx="367.8" cy="680.8" r="3.9"/><circle cx="373.3" cy="681.5" r="3.9"/><circle cx="379.2" cy="680.3" r="3.9"/><circle cx="385.0" cy="679.9" r="3.9"/><circle cx="395.5" cy="680.3" r="3.9"/><circle cx="401.3" cy="681.2" r="3.9"/><circle cx="407.0" cy="681.3" r="3.9"/><circle cx="412.7" cy="682.5" r="3.9"/><circle cx="418.3" cy="683.2" r="3.9"/><circle cx="423.8" cy="683.2" r="3.9"/><circle cx="429.5" cy="668.3" r="3.9"/><circle cx="435.5" cy="681.7" r="3.9"/><circle cx="460.8" cy="685.1" r="3.9"/><circle cx="463.3" cy="675.0" r="3.9"/><circle cx="474.5" cy="683.7" r="3.9"/><circle cx="480.0" cy="680.4" r="3.9"/><circle cx="490.8" cy="681.5" r="3.9"/><circle cx="496.7" cy="682.5" r="3.9"/><circle cx="502.5" cy="682.7" r="3.9"/><circle cx="507.5" cy="675.0" r="3.9"/><circle cx="511.2" cy="681.6" r="3.9"/><circle cx="513.8" cy="681.5" r="3.9"/><circle cx="519.2" cy="682.0" r="3.9"/><circle cx="525.0" cy="681.0" r="3.9"/><circle cx="530.5" cy="677.1" r="3.9"/><circle cx="535.8" cy="679.9" r="3.9"/><circle cx="541.3" cy="681.0" r="3.9"/><circle cx="547.2" cy="681.3" r="3.9"/><circle cx="552.8" cy="682.1" r="3.9"/><circle cx="563.3" cy="681.5" r="3.9"/><circle cx="569.2" cy="682.2" r="3.9"/><circle cx="575.0" cy="681.1" r="3.9"/><circle cx="581.3" cy="683.0" r="3.9"/><circle cx="586.7" cy="678.3" r="3.9"/><circle cx="592.2" cy="681.9" r="3.9"/><circle cx="603.3" cy="684.8" r="3.9"/><circle cx="609.2" cy="676.7" r="3.9"/><circle cx="614.7" cy="683.4" r="3.9"/><circle cx="620.0" cy="682.9" r="3.9"/><circle cx="625.8" cy="681.0" r="3.9"/><circle cx="631.7" cy="681.8" r="3.9"/><circle cx="637.2" cy="680.9" r="3.9"/><circle cx="642.5" cy="682.8" r="3.9"/><circle cx="648.3" cy="682.9" r="3.9"/><circle cx="654.2" cy="681.8" r="3.9"/><circle cx="660.0" cy="681.7" r="3.9"/><circle cx="665.0" cy="679.9" r="3.9"/><circle cx="669.0" cy="671.7" r="3.9"/><circle cx="675.5" cy="680.8" r="3.9"/><circle cx="681.7" cy="680.2" r="3.9"/><circle cx="687.5" cy="681.2" r="3.9"/><circle cx="692.8" cy="681.6" r="3.9"/><circle cx="698.8" cy="670.8" r="3.9"/><circle cx="704.5" cy="681.2" r="3.9"/><circle cx="710.0" cy="680.8" r="3.9"/><circle cx="715.6" cy="675.0" r="3.9"/><circle cx="719.5" cy="682.0" r="3.9"/><circle cx="726.7" cy="661.7" r="3.9"/><circle cx="733.0" cy="683.2" r="3.9"/><circle cx="743.7" cy="668.3" r="3.9"/><circle cx="749.2" cy="683.5" r="3.9"/><circle cx="755.0" cy="682.4" r="3.9"/><circle cx="760.5" cy="673.3" r="3.9"/><circle cx="766.2" cy="683.1" r="3.9"/><circle cx="777.2" cy="682.7" r="3.9"/><circle cx="782.8" cy="683.4" r="3.9"/><circle cx="786.5" cy="682.9" r="3.9"/><circle cx="788.8" cy="658.3" r="3.9"/><circle cx="805.3" cy="679.0" r="3.9"/><circle cx="811.2" cy="680.3" r="3.9"/><circle cx="822.2" cy="681.1" r="3.9"/><circle cx="827.5" cy="682.5" r="3.9"/><circle cx="833.3" cy="681.2" r="3.9"/><circle cx="839.2" cy="680.0" r="3.9"/><circle cx="844.7" cy="680.9" r="3.9"/><circle cx="850.3" cy="673.3" r="3.9"/><circle cx="855.8" cy="681.7" r="3.9"/><circle cx="861.7" cy="682.3" r="3.9"/><circle cx="866.7" cy="682.8" r="3.9"/><circle cx="872.5" cy="683.8" r="3.9"/><circle cx="878.0" cy="684.4" r="3.9"/><circle cx="883.3" cy="683.6" r="3.9"/><circle cx="889.5" cy="676.7" r="3.9"/><circle cx="894.7" cy="682.7" r="3.9"/><circle cx="900.5" cy="680.8" r="3.9"/><circle cx="906.2" cy="683.2" r="3.9"/><circle cx="911.7" cy="683.0" r="3.9"/><circle cx="917.5" cy="683.2" r="3.9"/><circle cx="923.3" cy="684.2" r="3.9"/><circle cx="928.3" cy="682.6" r="3.9"/><circle cx="945.0" cy="677.8" r="3.9"/><circle cx="951.0" cy="678.4" r="3.9"/><circle cx="956.7" cy="679.3" r="3.9"/><circle cx="962.5" cy="682.0" r="3.9"/><circle cx="968.0" cy="682.4" r="3.9"/><circle cx="973.7" cy="681.2" r="3.9"/><circle cx="984.8" cy="678.6" r="3.9"/><circle cx="990.5" cy="675.8" r="3.9"/><circle cx="995.8" cy="681.4" r="3.9"/><circle cx="1000.0" cy="682.2" r="3.9"/><circle cx="1002.0" cy="681.2" r="3.9"/><circle cx="1012.5" cy="667.5" r="3.9"/><circle cx="1018.5" cy="683.5" r="3.9"/><circle cx="1024.2" cy="683.7" r="3.9"/><circle cx="1029.5" cy="682.1" r="3.9"/><circle cx="1035.2" cy="683.1" r="3.9"/><circle cx="1041.3" cy="683.3" r="3.9"/><circle cx="1046.7" cy="683.3" r="3.9"/><circle cx="1052.0" cy="682.9" r="3.9"/><circle cx="1055.8" cy="683.7" r="3.9"/><circle cx="1057.8" cy="684.4" r="3.9"/><circle cx="1063.3" cy="683.6" r="3.9"/><circle cx="1074.5" cy="675.0" r="3.9"/><circle cx="1085.8" cy="680.2" r="3.9"/><circle cx="1091.3" cy="679.0" r="3.9"/><circle cx="1097.0" cy="681.3" r="3.9"/><circle cx="1102.7" cy="680.7" r="3.9"/><circle cx="1105.5" cy="682.1" r="3.9"/><circle cx="1108.3" cy="682.5" r="3.9"/><circle cx="1113.5" cy="680.5" r="3.9"/><circle cx="1119.2" cy="680.8" r="3.9"/><circle cx="1125.0" cy="670.8" r="3.9"/><circle cx="1136.2" cy="679.3" r="3.9"/><circle cx="1141.7" cy="680.0" r="3.9"/><circle cx="1147.5" cy="682.9" r="3.9"/><circle cx="1155.8" cy="684.1" r="3.9"/><circle cx="1159.2" cy="683.6" r="3.9"/><circle cx="1165.0" cy="683.4" r="3.9"/><circle cx="1170.8" cy="681.9" r="3.9"/><circle cx="1176.7" cy="682.4" r="3.9"/><circle cx="1182.5" cy="683.8" r="3.9"/>
</g>
<g id="s-magenta" fill="#bf00bf" stroke="none">
<polyline points="158.0,570.0 188.3,532.5 199.3,560.3 210.3,557.5 216.3,546.7 220.0,571.7 222.0,586.7 227.5,545.0 232.8,577.5 238.8,570.0 244.5,573.3 255.3,573.3 261.2,566.2 267.2,581.7 272.8,562.5 277.8,575.0 281.7,585.8 283.8,597.5 289.2,588.3 294.7,574.5 300.5,589.5 305.8,602.5 311.7,587.8 317.2,587.8 322.8,604.2 328.3,592.8 332.5,601.7 334.5,613.3 345.0,555.8 350.8,559.2 356.7,606.7 362.0,577.0 367.8,585.8 373.3,589.5 379.2,608.3 385.0,604.2 395.5,590.8 401.3,607.5 407.0,616.7 412.7,600.0 416.7,582.5 420.0,579.2 423.8,576.7 429.5,574.2 436.7,572.0 461.2,554.7 462.8,581.7 474.5,587.8 480.0,581.7 490.8,580.0 496.7,589.2 502.5,570.3 507.5,593.3 511.2,601.7 514.2,590.0 519.2,576.2 525.0,608.3 530.5,607.5 535.8,616.7 541.3,604.2 547.2,593.3 552.8,601.7 563.3,610.8 569.2,609.2 575.0,622.5 581.3,607.5 586.7,606.7 592.2,617.5 603.3,618.7 609.2,605.0 614.7,617.5 620.0,626.0 625.8,619.2 631.7,627.5 637.2,615.0 642.5,611.7 648.3,632.0 654.2,629.2 660.0,627.5 665.0,606.7 669.5,623.0 675.8,610.0 681.7,625.0 687.5,615.0 692.8,596.7 698.8,596.7 704.5,598.0 710.8,590.8 715.8,580.0 720.0,551.7 726.7,578.0 733.0,572.5 743.7,540.0 749.2,539.5 755.0,570.8 760.5,535.8 766.2,565.0 777.2,525.3 782.5,557.5 785.8,575.8 788.3,559.2 805.3,573.3 811.2,580.8 822.2,588.3 827.5,583.3 833.3,573.3 839.2,585.0 842.5,586.7 845.0,608.3 850.3,600.0 855.8,599.2 861.7,588.3 866.7,605.5 872.5,597.5 878.0,594.2 883.3,589.2 889.5,600.0 894.7,598.3 900.5,608.3 906.2,614.2 911.7,600.0 917.5,632.5 923.3,606.7 928.3,632.5 945.0,624.2 951.0,621.0 956.7,623.3 962.5,630.0 968.0,608.3 973.7,604.2 984.7,564.2 990.5,581.7 996.7,565.0 1000.0,568.3 1001.7,577.5 1012.5,561.7 1018.3,555.0 1024.2,551.7 1030.0,560.0 1035.8,563.3 1041.3,585.8 1046.7,582.5 1052.5,596.7 1055.8,596.7 1057.8,578.5 1063.3,607.0 1074.5,613.0 1085.8,587.2 1091.3,605.0 1097.2,611.7 1102.8,605.8 1105.0,611.7 1108.3,604.2 1114.2,620.8 1119.2,620.8 1125.0,593.3 1136.2,599.2 1141.7,613.3 1147.5,625.8 1153.3,606.7 1156.7,586.7 1159.2,598.0 1165.0,604.2 1170.8,620.8 1176.7,615.8 1182.5,641.7" fill="none" stroke="#bf00bf" stroke-width="3.0" stroke-linejoin="round" stroke-linecap="butt"/>
<circle cx="158.0" cy="570.0" r="3.9"/><circle cx="188.3" cy="532.5" r="3.9"/><circle cx="199.3" cy="560.3" r="3.9"/><circle cx="210.3" cy="557.5" r="3.9"/><circle cx="216.3" cy="546.7" r="3.9"/><circle cx="220.0" cy="571.7" r="3.9"/><circle cx="222.0" cy="586.7" r="3.9"/><circle cx="227.5" cy="545.0" r="3.9"/><circle cx="232.8" cy="577.5" r="3.9"/><circle cx="238.8" cy="570.0" r="3.9"/><circle cx="244.5" cy="573.3" r="3.9"/><circle cx="255.3" cy="573.3" r="3.9"/><circle cx="261.2" cy="566.2" r="3.9"/><circle cx="267.2" cy="581.7" r="3.9"/><circle cx="272.8" cy="562.5" r="3.9"/><circle cx="277.8" cy="575.0" r="3.9"/><circle cx="281.7" cy="585.8" r="3.9"/><circle cx="283.8" cy="597.5" r="3.9"/><circle cx="289.2" cy="588.3" r="3.9"/><circle cx="294.7" cy="574.5" r="3.9"/><circle cx="300.5" cy="589.5" r="3.9"/><circle cx="305.8" cy="602.5" r="3.9"/><circle cx="311.7" cy="587.8" r="3.9"/><circle cx="317.2" cy="587.8" r="3.9"/><circle cx="322.8" cy="604.2" r="3.9"/><circle cx="328.3" cy="592.8" r="3.9"/><circle cx="332.5" cy="601.7" r="3.9"/><circle cx="334.5" cy="613.3" r="3.9"/><circle cx="345.0" cy="555.8" r="3.9"/><circle cx="350.8" cy="559.2" r="3.9"/><circle cx="356.7" cy="606.7" r="3.9"/><circle cx="362.0" cy="577.0" r="3.9"/><circle cx="367.8" cy="585.8" r="3.9"/><circle cx="373.3" cy="589.5" r="3.9"/><circle cx="379.2" cy="608.3" r="3.9"/><circle cx="385.0" cy="604.2" r="3.9"/><circle cx="395.5" cy="590.8" r="3.9"/><circle cx="401.3" cy="607.5" r="3.9"/><circle cx="407.0" cy="616.7" r="3.9"/><circle cx="412.7" cy="600.0" r="3.9"/><circle cx="416.7" cy="582.5" r="3.9"/><circle cx="420.0" cy="579.2" r="3.9"/><circle cx="423.8" cy="576.7" r="3.9"/><circle cx="429.5" cy="574.2" r="3.9"/><circle cx="436.7" cy="572.0" r="3.9"/><circle cx="461.2" cy="554.7" r="3.9"/><circle cx="462.8" cy="581.7" r="3.9"/><circle cx="474.5" cy="587.8" r="3.9"/><circle cx="480.0" cy="581.7" r="3.9"/><circle cx="490.8" cy="580.0" r="3.9"/><circle cx="496.7" cy="589.2" r="3.9"/><circle cx="502.5" cy="570.3" r="3.9"/><circle cx="507.5" cy="593.3" r="3.9"/><circle cx="511.2" cy="601.7" r="3.9"/><circle cx="514.2" cy="590.0" r="3.9"/><circle cx="519.2" cy="576.2" r="3.9"/><circle cx="525.0" cy="608.3" r="3.9"/><circle cx="530.5" cy="607.5" r="3.9"/><circle cx="535.8" cy="616.7" r="3.9"/><circle cx="541.3" cy="604.2" r="3.9"/><circle cx="547.2" cy="593.3" r="3.9"/><circle cx="552.8" cy="601.7" r="3.9"/><circle cx="563.3" cy="610.8" r="3.9"/><circle cx="569.2" cy="609.2" r="3.9"/><circle cx="575.0" cy="622.5" r="3.9"/><circle cx="581.3" cy="607.5" r="3.9"/><circle cx="586.7" cy="606.7" r="3.9"/><circle cx="592.2" cy="617.5" r="3.9"/><circle cx="603.3" cy="618.7" r="3.9"/><circle cx="609.2" cy="605.0" r="3.9"/><circle cx="614.7" cy="617.5" r="3.9"/><circle cx="620.0" cy="626.0" r="3.9"/><circle cx="625.8" cy="619.2" r="3.9"/><circle cx="631.7" cy="627.5" r="3.9"/><circle cx="637.2" cy="615.0" r="3.9"/><circle cx="642.5" cy="611.7" r="3.9"/><circle cx="648.3" cy="632.0" r="3.9"/><circle cx="654.2" cy="629.2" r="3.9"/><circle cx="660.0" cy="627.5" r="3.9"/><circle cx="665.0" cy="606.7" r="3.9"/><circle cx="669.5" cy="623.0" r="3.9"/><circle cx="675.8" cy="610.0" r="3.9"/><circle cx="681.7" cy="625.0" r="3.9"/><circle cx="687.5" cy="615.0" r="3.9"/><circle cx="692.8" cy="596.7" r="3.9"/><circle cx="698.8" cy="596.7" r="3.9"/><circle cx="704.5" cy="598.0" r="3.9"/><circle cx="710.8" cy="590.8" r="3.9"/><circle cx="715.8" cy="580.0" r="3.9"/><circle cx="720.0" cy="551.7" r="3.9"/><circle cx="726.7" cy="578.0" r="3.9"/><circle cx="733.0" cy="572.5" r="3.9"/><circle cx="743.7" cy="540.0" r="3.9"/><circle cx="749.2" cy="539.5" r="3.9"/><circle cx="755.0" cy="570.8" r="3.9"/><circle cx="760.5" cy="535.8" r="3.9"/><circle cx="766.2" cy="565.0" r="3.9"/><circle cx="777.2" cy="525.3" r="3.9"/><circle cx="782.5" cy="557.5" r="3.9"/><circle cx="785.8" cy="575.8" r="3.9"/><circle cx="788.3" cy="559.2" r="3.9"/><circle cx="805.3" cy="573.3" r="3.9"/><circle cx="811.2" cy="580.8" r="3.9"/><circle cx="822.2" cy="588.3" r="3.9"/><circle cx="827.5" cy="583.3" r="3.9"/><circle cx="833.3" cy="573.3" r="3.9"/><circle cx="839.2" cy="585.0" r="3.9"/><circle cx="842.5" cy="586.7" r="3.9"/><circle cx="845.0" cy="608.3" r="3.9"/><circle cx="850.3" cy="600.0" r="3.9"/><circle cx="855.8" cy="599.2" r="3.9"/><circle cx="861.7" cy="588.3" r="3.9"/><circle cx="866.7" cy="605.5" r="3.9"/><circle cx="872.5" cy="597.5" r="3.9"/><circle cx="878.0" cy="594.2" r="3.9"/><circle cx="883.3" cy="589.2" r="3.9"/><circle cx="889.5" cy="600.0" r="3.9"/><circle cx="894.7" cy="598.3" r="3.9"/><circle cx="900.5" cy="608.3" r="3.9"/><circle cx="906.2" cy="614.2" r="3.9"/><circle cx="911.7" cy="600.0" r="3.9"/><circle cx="917.5" cy="632.5" r="3.9"/><circle cx="923.3" cy="606.7" r="3.9"/><circle cx="928.3" cy="632.5" r="3.9"/><circle cx="945.0" cy="624.2" r="3.9"/><circle cx="951.0" cy="621.0" r="3.9"/><circle cx="956.7" cy="623.3" r="3.9"/><circle cx="962.5" cy="630.0" r="3.9"/><circle cx="968.0" cy="608.3" r="3.9"/><circle cx="973.7" cy="604.2" r="3.9"/><circle cx="984.7" cy="564.2" r="3.9"/><circle cx="990.5" cy="581.7" r="3.9"/><circle cx="996.7" cy="565.0" r="3.9"/><circle cx="1000.0" cy="568.3" r="3.9"/><circle cx="1001.7" cy="577.5" r="3.9"/><circle cx="1012.5" cy="561.7" r="3.9"/><circle cx="1018.3" cy="555.0" r="3.9"/><circle cx="1024.2" cy="551.7" r="3.9"/><circle cx="1030.0" cy="560.0" r="3.9"/><circle cx="1035.8" cy="563.3" r="3.9"/><circle cx="1041.3" cy="585.8" r="3.9"/><circle cx="1046.7" cy="582.5" r="3.9"/><circle cx="1052.5" cy="596.7" r="3.9"/><circle cx="1055.8" cy="596.7" r="3.9"/><circle cx="1057.8" cy="578.5" r="3.9"/><circle cx="1063.3" cy="607.0" r="3.9"/><circle cx="1074.5" cy="613.0" r="3.9"/><circle cx="1085.8" cy="587.2" r="3.9"/><circle cx="1091.3" cy="605.0" r="3.9"/><circle cx="1097.2" cy="611.7" r="3.9"/><circle cx="1102.8" cy="605.8" r="3.9"/><circle cx="1105.0" cy="611.7" r="3.9"/><circle cx="1108.3" cy="604.2" r="3.9"/><circle cx="1114.2" cy="620.8" r="3.9"/><circle cx="1119.2" cy="620.8" r="3.9"/><circle cx="1125.0" cy="593.3" r="3.9"/><circle cx="1136.2" cy="599.2" r="3.9"/><circle cx="1141.7" cy="613.3" r="3.9"/><circle cx="1147.5" cy="625.8" r="3.9"/><circle cx="1153.3" cy="606.7" r="3.9"/><circle cx="1156.7" cy="586.7" r="3.9"/><circle cx="1159.2" cy="598.0" r="3.9"/><circle cx="1165.0" cy="604.2" r="3.9"/><circle cx="1170.8" cy="620.8" r="3.9"/><circle cx="1176.7" cy="615.8" r="3.9"/><circle cx="1182.5" cy="641.7" r="3.9"/>
</g>
<g id="s-orange" fill="#ffa500" stroke="none">
<polyline points="158.0,575.8 188.3,662.5 199.3,683.2 210.3,680.9 216.3,675.0 221.7,668.3 227.5,681.4 232.8,681.4 238.8,681.5 244.5,681.1 255.3,679.7 261.2,680.8 267.2,664.0 272.8,683.2 277.8,682.4 283.5,683.1 289.2,671.0 294.7,682.0 300.5,682.8 305.8,682.2 311.7,683.2 317.2,683.3 322.8,684.2 328.3,684.9 333.3,684.5 345.0,681.0 350.8,652.5 356.7,673.3 362.0,675.0 367.8,658.3 373.3,681.5 379.2,663.3 385.0,673.3 395.5,629.2 401.3,609.2 407.0,613.3 412.7,587.5 418.3,605.0 423.8,595.8 429.5,618.3 435.5,633.3 461.2,685.1 463.3,684.0 474.5,683.7 480.0,682.6 490.8,681.5 496.7,682.5 502.5,682.7 507.5,683.3 513.3,681.5 519.2,682.0 525.0,681.0 530.5,679.5 535.8,679.9 541.3,681.0 547.2,681.3 552.8,682.1 563.3,681.5 569.2,682.2 575.0,681.1 581.3,683.0 586.7,683.7 592.2,684.3 603.3,684.8 609.2,655.0 614.7,683.4 620.0,682.9 625.8,682.3 631.7,681.8 637.2,683.1 642.5,682.8 648.3,665.0 654.2,681.8 660.0,681.7 665.0,679.9 668.3,655.8 675.8,643.3 681.7,595.8 687.5,588.3 692.8,541.3 698.8,579.2 704.5,578.3 710.0,613.3 715.8,608.3 721.2,603.3 726.7,633.3 733.0,615.0 743.7,652.5 749.2,654.2 755.0,673.3 760.5,656.7 766.2,683.1 777.2,673.3 783.3,668.3 788.3,671.7 805.3,671.7 811.2,680.3 822.2,681.1 827.5,676.0 833.3,681.2 839.2,681.2 845.0,680.9 850.3,680.5 855.8,681.7 861.7,682.3 866.7,682.8 872.5,683.8 878.0,673.3 883.3,683.6 889.5,648.3 895.8,663.3 900.5,682.2 906.2,667.5 911.7,683.0 917.5,663.3 923.3,667.5 929.2,682.6 945.8,656.7 950.8,605.0 957.5,595.0 963.3,580.0 968.0,568.3 973.7,557.5 984.7,548.2 990.5,571.7 995.8,586.7 1000.0,593.3 1001.7,619.2 1012.5,615.0 1017.5,663.3 1024.2,670.0 1030.0,682.1 1035.8,672.0 1041.3,676.0 1046.7,666.7 1052.5,683.9 1055.8,666.0 1057.8,673.0 1063.3,676.0 1074.5,681.4 1085.8,680.2 1091.5,681.0 1097.2,682.4 1102.8,682.2 1106.7,682.1 1108.3,682.5 1114.2,672.0 1119.2,680.8 1125.0,663.3 1136.2,666.7 1141.7,681.9 1147.5,682.9 1155.8,666.7 1159.2,653.3 1165.0,683.4 1170.8,681.9 1176.7,653.3 1182.5,670.0" fill="none" stroke="#ffa500" stroke-width="3.0" stroke-linejoin="round" stroke-linecap="butt"/>
<circle cx="158.0" cy="575.8" r="3.9"/><circle cx="188.3" cy="662.5" r="3.9"/><circle cx="199.3" cy="683.2" r="3.9"/><circle cx="210.3" cy="680.9" r="3.9"/><circle cx="216.3" cy="675.0" r="3.9"/><circle cx="221.7" cy="668.3" r="3.9"/><circle cx="227.5" cy="681.4" r="3.9"/><circle cx="232.8" cy="681.4" r="3.9"/><circle cx="238.8" cy="681.5" r="3.9"/><circle cx="244.5" cy="681.1" r="3.9"/><circle cx="255.3" cy="679.7" r="3.9"/><circle cx="261.2" cy="680.8" r="3.9"/><circle cx="267.2" cy="664.0" r="3.9"/><circle cx="272.8" cy="683.2" r="3.9"/><circle cx="277.8" cy="682.4" r="3.9"/><circle cx="283.5" cy="683.1" r="3.9"/><circle cx="289.2" cy="671.0" r="3.9"/><circle cx="294.7" cy="682.0" r="3.9"/><circle cx="300.5" cy="682.8" r="3.9"/><circle cx="305.8" cy="682.2" r="3.9"/><circle cx="311.7" cy="683.2" r="3.9"/><circle cx="317.2" cy="683.3" r="3.9"/><circle cx="322.8" cy="684.2" r="3.9"/><circle cx="328.3" cy="684.9" r="3.9"/><circle cx="333.3" cy="684.5" r="3.9"/><circle cx="345.0" cy="681.0" r="3.9"/><circle cx="350.8" cy="652.5" r="3.9"/><circle cx="356.7" cy="673.3" r="3.9"/><circle cx="362.0" cy="675.0" r="3.9"/><circle cx="367.8" cy="658.3" r="3.9"/><circle cx="373.3" cy="681.5" r="3.9"/><circle cx="379.2" cy="663.3" r="3.9"/><circle cx="385.0" cy="673.3" r="3.9"/><circle cx="395.5" cy="629.2" r="3.9"/><circle cx="401.3" cy="609.2" r="3.9"/><circle cx="407.0" cy="613.3" r="3.9"/><circle cx="412.7" cy="587.5" r="3.9"/><circle cx="418.3" cy="605.0" r="3.9"/><circle cx="423.8" cy="595.8" r="3.9"/><circle cx="429.5" cy="618.3" r="3.9"/><circle cx="435.5" cy="633.3" r="3.9"/><circle cx="461.2" cy="685.1" r="3.9"/><circle cx="463.3" cy="684.0" r="3.9"/><circle cx="474.5" cy="683.7" r="3.9"/><circle cx="480.0" cy="682.6" r="3.9"/><circle cx="490.8" cy="681.5" r="3.9"/><circle cx="496.7" cy="682.5" r="3.9"/><circle cx="502.5" cy="682.7" r="3.9"/><circle cx="507.5" cy="683.3" r="3.9"/><circle cx="513.3" cy="681.5" r="3.9"/><circle cx="519.2" cy="682.0" r="3.9"/><circle cx="525.0" cy="681.0" r="3.9"/><circle cx="530.5" cy="679.5" r="3.9"/><circle cx="535.8" cy="679.9" r="3.9"/><circle cx="541.3" cy="681.0" r="3.9"/><circle cx="547.2" cy="681.3" r="3.9"/><circle cx="552.8" cy="682.1" r="3.9"/><circle cx="563.3" cy="681.5" r="3.9"/><circle cx="569.2" cy="682.2" r="3.9"/><circle cx="575.0" cy="681.1" r="3.9"/><circle cx="581.3" cy="683.0" r="3.9"/><circle cx="586.7" cy="683.7" r="3.9"/><circle cx="592.2" cy="684.3" r="3.9"/><circle cx="603.3" cy="684.8" r="3.9"/><circle cx="609.2" cy="655.0" r="3.9"/><circle cx="614.7" cy="683.4" r="3.9"/><circle cx="620.0" cy="682.9" r="3.9"/><circle cx="625.8" cy="682.3" r="3.9"/><circle cx="631.7" cy="681.8" r="3.9"/><circle cx="637.2" cy="683.1" r="3.9"/><circle cx="642.5" cy="682.8" r="3.9"/><circle cx="648.3" cy="665.0" r="3.9"/><circle cx="654.2" cy="681.8" r="3.9"/><circle cx="660.0" cy="681.7" r="3.9"/><circle cx="665.0" cy="679.9" r="3.9"/><circle cx="668.3" cy="655.8" r="3.9"/><circle cx="675.8" cy="643.3" r="3.9"/><circle cx="681.7" cy="595.8" r="3.9"/><circle cx="687.5" cy="588.3" r="3.9"/><circle cx="692.8" cy="541.3" r="3.9"/><circle cx="698.8" cy="579.2" r="3.9"/><circle cx="704.5" cy="578.3" r="3.9"/><circle cx="710.0" cy="613.3" r="3.9"/><circle cx="715.8" cy="608.3" r="3.9"/><circle cx="721.2" cy="603.3" r="3.9"/><circle cx="726.7" cy="633.3" r="3.9"/><circle cx="733.0" cy="615.0" r="3.9"/><circle cx="743.7" cy="652.5" r="3.9"/><circle cx="749.2" cy="654.2" r="3.9"/><circle cx="755.0" cy="673.3" r="3.9"/><circle cx="760.5" cy="656.7" r="3.9"/><circle cx="766.2" cy="683.1" r="3.9"/><circle cx="777.2" cy="673.3" r="3.9"/><circle cx="783.3" cy="668.3" r="3.9"/><circle cx="788.3" cy="671.7" r="3.9"/><circle cx="805.3" cy="671.7" r="3.9"/><circle cx="811.2" cy="680.3" r="3.9"/><circle cx="822.2" cy="681.1" r="3.9"/><circle cx="827.5" cy="676.0" r="3.9"/><circle cx="833.3" cy="681.2" r="3.9"/><circle cx="839.2" cy="681.2" r="3.9"/><circle cx="845.0" cy="680.9" r="3.9"/><circle cx="850.3" cy="680.5" r="3.9"/><circle cx="855.8" cy="681.7" r="3.9"/><circle cx="861.7" cy="682.3" r="3.9"/><circle cx="866.7" cy="682.8" r="3.9"/><circle cx="872.5" cy="683.8" r="3.9"/><circle cx="878.0" cy="673.3" r="3.9"/><circle cx="883.3" cy="683.6" r="3.9"/><circle cx="889.5" cy="648.3" r="3.9"/><circle cx="895.8" cy="663.3" r="3.9"/><circle cx="900.5" cy="682.2" r="3.9"/><circle cx="906.2" cy="667.5" r="3.9"/><circle cx="911.7" cy="683.0" r="3.9"/><circle cx="917.5" cy="663.3" r="3.9"/><circle cx="923.3" cy="667.5" r="3.9"/><circle cx="929.2" cy="682.6" r="3.9"/><circle cx="945.8" cy="656.7" r="3.9"/><circle cx="950.8" cy="605.0" r="3.9"/><circle cx="957.5" cy="595.0" r="3.9"/><circle cx="963.3" cy="580.0" r="3.9"/><circle cx="968.0" cy="568.3" r="3.9"/><circle cx="973.7" cy="557.5" r="3.9"/><circle cx="984.7" cy="548.2" r="3.9"/><circle cx="990.5" cy="571.7" r="3.9"/><circle cx="995.8" cy="586.7" r="3.9"/><circle cx="1000.0" cy="593.3" r="3.9"/><circle cx="1001.7" cy="619.2" r="3.9"/><circle cx="1012.5" cy="615.0" r="3.9"/><circle cx="1017.5" cy="663.3" r="3.9"/><circle cx="1024.2" cy="670.0" r="3.9"/><circle cx="1030.0" cy="682.1" r="3.9"/><circle cx="1035.8" cy="672.0" r="3.9"/><circle cx="1041.3" cy="676.0" r="3.9"/><circle cx="1046.7" cy="666.7" r="3.9"/><circle cx="1052.5" cy="683.9" r="3.9"/><circle cx="1055.8" cy="666.0" r="3.9"/><circle cx="1057.8" cy="673.0" r="3.9"/><circle cx="1063.3" cy="676.0" r="3.9"/><circle cx="1074.5" cy="681.4" r="3.9"/><circle cx="1085.8" cy="680.2" r="3.9"/><circle cx="1091.5" cy="681.0" r="3.9"/><circle cx="1097.2" cy="682.4" r="3.9"/><circle cx="1102.8" cy="682.2" r="3.9"/><circle cx="1106.7" cy="682.1" r="3.9"/><circle cx="1108.3" cy="682.5" r="3.9"/><circle cx="1114.2" cy="672.0" r="3.9"/><circle cx="1119.2" cy="680.8" r="3.9"/><circle cx="1125.0" cy="663.3" r="3.9"/><circle cx="1136.2" cy="666.7" r="3.9"/><circle cx="1141.7" cy="681.9" r="3.9"/><circle cx="1147.5" cy="682.9" r="3.9"/><circle cx="1155.8" cy="666.7" r="3.9"/><circle cx="1159.2" cy="653.3" r="3.9"/><circle cx="1165.0" cy="683.4" r="3.9"/><circle cx="1170.8" cy="681.9" r="3.9"/><circle cx="1176.7" cy="653.3" r="3.9"/><circle cx="1182.5" cy="670.0" r="3.9"/>
</g>
<g id="s-pink" fill="#ffb6c1" stroke="none">
<polyline points="158.0,534.5 188.3,619.2 199.3,629.0 210.3,653.3 216.3,655.8 221.7,649.2 227.5,667.5 232.8,655.8 238.8,661.7 244.5,651.7 255.3,665.8 261.2,653.3 267.2,656.7 272.8,671.7 277.8,667.5 283.3,646.7 284.5,680.0 289.2,660.0 294.7,674.2 300.5,660.0 305.8,663.3 311.7,675.0 317.2,670.0 322.8,676.7 328.3,660.0 333.3,664.2 338.3,671.7 345.0,668.3 350.8,656.7 356.7,645.0 362.0,640.0 367.8,635.0 373.3,645.0 379.2,636.7 385.0,633.8 395.5,501.3 401.3,515.0 407.0,500.6 412.7,518.0 418.3,510.8 423.8,518.3 429.5,533.7 435.5,577.5 461.2,652.5 463.3,654.2 474.5,647.5 480.0,655.0 490.8,671.7 496.7,659.2 502.5,673.3 507.5,666.7 513.3,658.3 519.2,649.2 525.0,670.0 530.5,660.0 535.8,669.2 541.3,668.3 547.2,639.2 552.8,661.7 563.3,666.7 569.2,678.3 575.0,676.7 581.3,670.0 586.7,665.0 592.2,656.7 603.3,661.7 609.2,647.5 614.7,658.3 620.0,657.5 625.8,648.8 631.7,647.5 637.2,651.7 642.5,640.0 648.3,656.7 654.2,663.3 660.0,656.7 665.0,638.3 670.0,612.5 675.6,531.5 681.7,500.8 687.5,463.3 692.8,450.0 698.8,495.0 704.5,502.2 710.0,528.3 715.8,553.3 721.0,519.2 727.5,560.0 733.0,606.7 743.7,601.7 749.2,614.2 755.0,619.2 760.5,628.3 766.2,624.2 777.2,641.7 783.3,629.2 788.3,652.5 805.3,650.0 811.2,658.3 822.2,647.5 827.5,663.3 833.3,649.2 839.2,660.0 843.3,673.3 845.0,646.7 850.3,655.0 855.8,656.7 861.7,647.0 866.7,648.0 872.5,629.2 878.0,653.3 883.3,655.0 889.5,655.0 895.8,626.7 900.5,625.0 906.2,635.0 911.7,635.8 917.5,649.2 923.3,646.7 928.3,639.2 945.0,593.0 950.8,466.7 956.7,466.3 962.5,483.3 968.0,459.2 973.7,448.1 985.0,455.0 990.5,490.8 995.8,527.5 1000.0,523.3 1002.5,556.7 1012.5,576.7 1019.2,620.0 1024.2,618.3 1030.0,642.5 1035.8,641.7 1041.3,643.3 1046.7,636.7 1052.5,658.3 1055.8,653.3 1057.8,654.2 1063.3,657.2 1074.5,659.0 1085.8,671.0 1091.5,672.5 1097.2,670.0 1102.8,651.7 1106.7,678.3 1108.3,663.3 1114.2,668.3 1119.2,658.3 1125.0,644.2 1136.2,645.8 1141.7,675.0 1147.5,639.2 1153.3,650.0 1156.7,643.3 1165.0,618.3 1170.8,614.2 1176.7,626.7 1182.5,623.3" fill="none" stroke="#ffb6c1" stroke-width="3.0" stroke-linejoin="round" stroke-linecap="butt"/>
<circle cx="158.0" cy="534.5" r="3.9"/><circle cx="188.3" cy="619.2" r="3.9"/><circle cx="199.3" cy="629.0" r="3.9"/><circle cx="210.3" cy="653.3" r="3.9"/><circle cx="216.3" cy="655.8" r="3.9"/><circle cx="221.7" cy="649.2" r="3.9"/><circle cx="227.5" cy="667.5" r="3.9"/><circle cx="232.8" cy="655.8" r="3.9"/><circle cx="238.8" cy="661.7" r="3.9"/><circle cx="244.5" cy="651.7" r="3.9"/><circle cx="255.3" cy="665.8" r="3.9"/><circle cx="261.2" cy="653.3" r="3.9"/><circle cx="267.2" cy="656.7" r="3.9"/><circle cx="272.8" cy="671.7" r="3.9"/><circle cx="277.8" cy="667.5" r="3.9"/><circle cx="283.3" cy="646.7" r="3.9"/><circle cx="284.5" cy="680.0" r="3.9"/><circle cx="289.2" cy="660.0" r="3.9"/><circle cx="294.7" cy="674.2" r="3.9"/><circle cx="300.5" cy="660.0" r="3.9"/><circle cx="305.8" cy="663.3" r="3.9"/><circle cx="311.7" cy="675.0" r="3.9"/><circle cx="317.2" cy="670.0" r="3.9"/><circle cx="322.8" cy="676.7" r="3.9"/><circle cx="328.3" cy="660.0" r="3.9"/><circle cx="333.3" cy="664.2" r="3.9"/><circle cx="338.3" cy="671.7" r="3.9"/><circle cx="345.0" cy="668.3" r="3.9"/><circle cx="350.8" cy="656.7" r="3.9"/><circle cx="356.7" cy="645.0" r="3.9"/><circle cx="362.0" cy="640.0" r="3.9"/><circle cx="367.8" cy="635.0" r="3.9"/><circle cx="373.3" cy="645.0" r="3.9"/><circle cx="379.2" cy="636.7" r="3.9"/><circle cx="385.0" cy="633.8" r="3.9"/><circle cx="395.5" cy="501.3" r="3.9"/><circle cx="401.3" cy="515.0" r="3.9"/><circle cx="407.0" cy="500.6" r="3.9"/><circle cx="412.7" cy="518.0" r="3.9"/><circle cx="418.3" cy="510.8" r="3.9"/><circle cx="423.8" cy="518.3" r="3.9"/><circle cx="429.5" cy="533.7" r="3.9"/><circle cx="435.5" cy="577.5" r="3.9"/><circle cx="461.2" cy="652.5" r="3.9"/><circle cx="463.3" cy="654.2" r="3.9"/><circle cx="474.5" cy="647.5" r="3.9"/><circle cx="480.0" cy="655.0" r="3.9"/><circle cx="490.8" cy="671.7" r="3.9"/><circle cx="496.7" cy="659.2" r="3.9"/><circle cx="502.5" cy="673.3" r="3.9"/><circle cx="507.5" cy="666.7" r="3.9"/><circle cx="513.3" cy="658.3" r="3.9"/><circle cx="519.2" cy="649.2" r="3.9"/><circle cx="525.0" cy="670.0" r="3.9"/><circle cx="530.5" cy="660.0" r="3.9"/><circle cx="535.8" cy="669.2" r="3.9"/><circle cx="541.3" cy="668.3" r="3.9"/><circle cx="547.2" cy="639.2" r="3.9"/><circle cx="552.8" cy="661.7" r="3.9"/><circle cx="563.3" cy="666.7" r="3.9"/><circle cx="569.2" cy="678.3" r="3.9"/><circle cx="575.0" cy="676.7" r="3.9"/><circle cx="581.3" cy="670.0" r="3.9"/><circle cx="586.7" cy="665.0" r="3.9"/><circle cx="592.2" cy="656.7" r="3.9"/><circle cx="603.3" cy="661.7" r="3.9"/><circle cx="609.2" cy="647.5" r="3.9"/><circle cx="614.7" cy="658.3" r="3.9"/><circle cx="620.0" cy="657.5" r="3.9"/><circle cx="625.8" cy="648.8" r="3.9"/><circle cx="631.7" cy="647.5" r="3.9"/><circle cx="637.2" cy="651.7" r="3.9"/><circle cx="642.5" cy="640.0" r="3.9"/><circle cx="648.3" cy="656.7" r="3.9"/><circle cx="654.2" cy="663.3" r="3.9"/><circle cx="660.0" cy="656.7" r="3.9"/><circle cx="665.0" cy="638.3" r="3.9"/><circle cx="670.0" cy="612.5" r="3.9"/><circle cx="675.6" cy="531.5" r="3.9"/><circle cx="681.7" cy="500.8" r="3.9"/><circle cx="687.5" cy="463.3" r="3.9"/><circle cx="692.8" cy="450.0" r="3.9"/><circle cx="698.8" cy="495.0" r="3.9"/><circle cx="704.5" cy="502.2" r="3.9"/><circle cx="710.0" cy="528.3" r="3.9"/><circle cx="715.8" cy="553.3" r="3.9"/><circle cx="721.0" cy="519.2" r="3.9"/><circle cx="727.5" cy="560.0" r="3.9"/><circle cx="733.0" cy="606.7" r="3.9"/><circle cx="743.7" cy="601.7" r="3.9"/><circle cx="749.2" cy="614.2" r="3.9"/><circle cx="755.0" cy="619.2" r="3.9"/><circle cx="760.5" cy="628.3" r="3.9"/><circle cx="766.2" cy="624.2" r="3.9"/><circle cx="777.2" cy="641.7" r="3.9"/><circle cx="783.3" cy="629.2" r="3.9"/><circle cx="788.3" cy="652.5" r="3.9"/><circle cx="805.3" cy="650.0" r="3.9"/><circle cx="811.2" cy="658.3" r="3.9"/><circle cx="822.2" cy="647.5" r="3.9"/><circle cx="827.5" cy="663.3" r="3.9"/><circle cx="833.3" cy="649.2" r="3.9"/><circle cx="839.2" cy="660.0" r="3.9"/><circle cx="843.3" cy="673.3" r="3.9"/><circle cx="845.0" cy="646.7" r="3.9"/><circle cx="850.3" cy="655.0" r="3.9"/><circle cx="855.8" cy="656.7" r="3.9"/><circle cx="861.7" cy="647.0" r="3.9"/><circle cx="866.7" cy="648.0" r="3.9"/><circle cx="872.5" cy="629.2" r="3.9"/><circle cx="878.0" cy="653.3" r="3.9"/><circle cx="883.3" cy="655.0" r="3.9"/><circle cx="889.5" cy="655.0" r="3.9"/><circle cx="895.8" cy="626.7" r="3.9"/><circle cx="900.5" cy="625.0" r="3.9"/><circle cx="906.2" cy="635.0" r="3.9"/><circle cx="911.7" cy="635.8" r="3.9"/><circle cx="917.5" cy="649.2" r="3.9"/><circle cx="923.3" cy="646.7" r="3.9"/><circle cx="928.3" cy="639.2" r="3.9"/><circle cx="945.0" cy="593.0" r="3.9"/><circle cx="950.8" cy="466.7" r="3.9"/><circle cx="956.7" cy="466.3" r="3.9"/><circle cx="962.5" cy="483.3" r="3.9"/><circle cx="968.0" cy="459.2" r="3.9"/><circle cx="973.7" cy="448.1" r="3.9"/><circle cx="985.0" cy="455.0" r="3.9"/><circle cx="990.5" cy="490.8" r="3.9"/><circle cx="995.8" cy="527.5" r="3.9"/><circle cx="1000.0" cy="523.3" r="3.9"/><circle cx="1002.5" cy="556.7" r="3.9"/><circle cx="1012.5" cy="576.7" r="3.9"/><circle cx="1019.2" cy="620.0" r="3.9"/><circle cx="1024.2" cy="618.3" r="3.9"/><circle cx="1030.0" cy="642.5" r="3.9"/><circle cx="1035.8" cy="641.7" r="3.9"/><circle cx="1041.3" cy="643.3" r="3.9"/><circle cx="1046.7" cy="636.7" r="3.9"/><circle cx="1052.5" cy="658.3" r="3.9"/><circle cx="1055.8" cy="653.3" r="3.9"/><circle cx="1057.8" cy="654.2" r="3.9"/><circle cx="1063.3" cy="657.2" r="3.9"/><circle cx="1074.5" cy="659.0" r="3.9"/><circle cx="1085.8" cy="671.0" r="3.9"/><circle cx="1091.5" cy="672.5" r="3.9"/><circle cx="1097.2" cy="670.0" r="3.9"/><circle cx="1102.8" cy="651.7" r="3.9"/><circle cx="1106.7" cy="678.3" r="3.9"/><circle cx="1108.3" cy="663.3" r="3.9"/><circle cx="1114.2" cy="668.3" r="3.9"/><circle cx="1119.2" cy="658.3" r="3.9"/><circle cx="1125.0" cy="644.2" r="3.9"/><circle cx="1136.2" cy="645.8" r="3.9"/><circle cx="1141.7" cy="675.0" r="3.9"/><circle cx="1147.5" cy="639.2" r="3.9"/><circle cx="1153.3" cy="650.0" r="3.9"/><circle cx="1156.7" cy="643.3" r="3.9"/><circle cx="1165.0" cy="618.3" r="3.9"/><circle cx="1170.8" cy="614.2" r="3.9"/><circle cx="1176.7" cy="626.7" r="3.9"/><circle cx="1182.5" cy="623.3" r="3.9"/>
</g>
</g>
<path d="M150.00 742.5v-7M375.00 742.5v-7M600.00 742.5v-7M825.00 742.5v-7M1050.00 742.5v-7M1275.00 742.5v-7" stroke="#000" stroke-width="1.6" fill="none"/>
<path d="M262.50 742.5v-5.5M487.50 742.5v-5.5M712.50 742.5v-5.5M937.50 742.5v-5.5M1162.50 742.5v-5.5" stroke="#000" stroke-width="1.0" fill="none"/>
<path d="M150.0 713.00h7M1275.0 713.00h-7M150.0 638.66h7M1275.0 638.66h-7M150.0 564.32h7M1275.0 564.32h-7M150.0 489.98h7M1275.0 489.98h-7M150.0 415.64h7M1275.0 415.64h-7M150.0 341.30h7M1275.0 341.30h-7M150.0 266.96h7M1275.0 266.96h-7M150.0 192.62h7M1275.0 192.62h-7M150.0 118.28h7M1275.0 118.28h-7" stroke="#000" stroke-width="1.6" fill="none"/>
<path d="M498.80 118.0v7M910.70 118.0v7" stroke="#000" stroke-width="1.6" fill="none"/>
<path d="M291.30 118.0v5.7M703.60 118.0v5.7M1080.50 118.0v5.7" stroke="#000" stroke-width="1.0" fill="none"/>
<path d="M149 117H1276V743H149Z M151 119V742H1274V119Z" fill="#000" fill-rule="evenodd"/>
<g font-size="24.5px" fill="#000">
<text x="149.6" y="767.8" text-anchor="middle">60000</text>
<text x="374.6" y="767.8" text-anchor="middle">60200</text>
<text x="599.6" y="767.8" text-anchor="middle">60400</text>
<text x="824.6" y="767.8" text-anchor="middle">60600</text>
<text x="1049.6" y="767.8" text-anchor="middle">60800</text>
<text x="1274.6" y="767.8" text-anchor="middle">61000</text>
<text x="141.6" y="722.0" text-anchor="end">0</text>
<text x="141.6" y="647.7" text-anchor="end">2</text>
<text x="141.6" y="573.3" text-anchor="end">4</text>
<text x="141.6" y="499.0" text-anchor="end">6</text>
<text x="141.6" y="424.6" text-anchor="end">8</text>
<text x="141.6" y="350.3" text-anchor="end">10</text>
<text x="141.6" y="276.0" text-anchor="end">12</text>
<text x="141.6" y="201.6" text-anchor="end">14</text>
<text x="141.6" y="127.3" text-anchor="end">16</text>
<text x="498.3" y="105" text-anchor="middle" letter-spacing="0.45">2024</text>
<text x="910.0" y="105" text-anchor="middle" letter-spacing="0.45">2025</text>
</g>
<text x="712.5" y="816.3" font-size="29.33px" text-anchor="middle">MJD [day]</text>
<text transform="translate(83.2 425) rotate(-90)" font-size="29.33px" text-anchor="middle">Flux density [Jy]</text>
<text x="711.3" y="44.4" font-size="31.55px" text-anchor="middle">37.54+0.21</text>
<g id="legend">
<rect x="1342" y="122.5" width="128" height="343" rx="3.5" ry="3.5" fill="#fff" stroke="#d6d6d6" stroke-width="2"/>
<text x="1351.6" y="145.7" font-size="20.5px"><tspan font-style="italic">V</tspan><tspan font-size="14.4px" dy="3.1" dx="-0.3" letter-spacing="0.25">lsr</tspan><tspan dy="-3.1" dx="0.9" letter-spacing="0.46"> (km/s)</tspan></text>
<path d="M1348.1 170.4H1393" stroke="#000000" stroke-width="3" fill="none"/><circle cx="1370.6" cy="170.4" r="6.95" fill="#000000"/>
<text x="1402.2" y="177.0" font-size="20.4px">79.62</text>
<path d="M1348.1 201.0H1393" stroke="#0000ff" stroke-width="3" fill="none"/><circle cx="1370.6" cy="201.0" r="6.95" fill="#0000ff"/>
<text x="1402.2" y="207.6" font-size="20.4px">83.77</text>
<path d="M1348.1 231.5H1393" stroke="#ff0000" stroke-width="3" fill="none"/><circle cx="1370.6" cy="231.5" r="6.95" fill="#ff0000"/>
<text x="1402.2" y="238.1" font-size="20.4px">84.55</text>
<path d="M1348.1 262.1H1393" stroke="#008000" stroke-width="3" fill="none"/><circle cx="1370.6" cy="262.1" r="6.95" fill="#008000"/>
<text x="1402.2" y="268.7" font-size="20.4px">84.92</text>
<path d="M1348.1 292.6H1393" stroke="#ffd700" stroke-width="3" fill="none"/><circle cx="1370.6" cy="292.6" r="6.95" fill="#ffd700"/>
<text x="1402.2" y="299.2" font-size="20.4px">85.63</text>
<path d="M1348.1 323.1H1393" stroke="#00bfbf" stroke-width="3" fill="none"/><circle cx="1370.6" cy="323.1" r="6.95" fill="#00bfbf"/>
<text x="1402.2" y="329.8" font-size="20.4px">85.84</text>
<path d="M1348.1 353.7H1393" stroke="#bf00bf" stroke-width="3" fill="none"/><circle cx="1370.6" cy="353.7" r="6.95" fill="#bf00bf"/>
<text x="1402.2" y="360.3" font-size="20.4px">86.38</text>
<path d="M1348.1 384.2H1393" stroke="#ffa500" stroke-width="3" fill="none"/><circle cx="1370.6" cy="384.2" r="6.95" fill="#ffa500"/>
<text x="1402.2" y="390.9" font-size="20.4px">87.39</text>
<path d="M1348.1 414.8H1393" stroke="#ffb6c1" stroke-width="3" fill="none"/><circle cx="1370.6" cy="414.8" r="6.95" fill="#ffb6c1"/>
<text x="1402.2" y="421.4" font-size="20.4px">87.82</text>
<path d="M1361.6 438.0L1380.0 456.4M1361.6 456.4L1380.0 438.0" stroke="#808080" stroke-width="3" fill="none"/>
<text x="1402.2" y="450.9" font-size="20.4px">3 <tspan font-style="italic">σ</tspan></text>
</g>
</svg>
</body></html>
